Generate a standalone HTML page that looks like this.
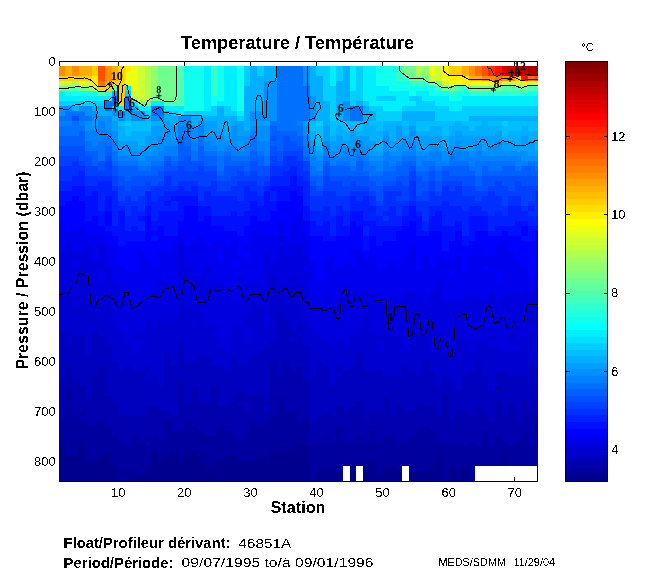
<!DOCTYPE html><html><head><meta charset="utf-8"><style>html,body{margin:0;padding:0;background:#fff;}svg{display:block;will-change:transform;}text{font-family:"Liberation Sans",sans-serif;}</style></head><body>
<svg width="650" height="580" viewBox="0 0 650 580">
<defs><filter id="crisp" x="0" y="0" width="1" height="1" filterUnits="objectBoundingBox"><feComponentTransfer><feFuncA type="discrete" tableValues="0 1"/></feComponentTransfer></filter><clipPath id="plotclip"><rect x="58.7" y="66" width="479.1" height="415"/></clipPath></defs>
<rect width="650" height="580" fill="#fff"/>
<g stroke="#000" stroke-width="1" fill="none" shape-rendering="crispEdges">
<path d="M59 61.5H537.8M59.5 61V481.5M537.5 61V481.5M59 481.5H537.8"/>
<path d="M118.5 61V66M118.5 481V476.5M184.5 61V66M184.5 481V476.5M250.5 61V66M250.5 481V476.5M316.5 61V66M316.5 481V476.5M382.5 61V66M382.5 481V476.5M448.5 61V66M448.5 481V476.5M514.5 61V66M514.5 481V476.5M59 61.5H63.5M537.8 61.5H533.3M59 111.5H63.5M537.8 111.5H533.3M59 161.5H63.5M537.8 161.5H533.3M59 211.5H63.5M537.8 211.5H533.3M59 261.5H63.5M537.8 261.5H533.3M59 311.5H63.5M537.8 311.5H533.3M59 361.5H63.5M537.8 361.5H533.3M59 411.5H63.5M537.8 411.5H533.3M59 461.5H63.5M537.8 461.5H533.3"/>
</g>
<g shape-rendering="crispEdges">
<rect x="58.70" y="66" width="6.61" height="10" fill="#ff8f00"/>
<rect x="58.70" y="76" width="6.61" height="5" fill="#ffcf00"/>
<rect x="58.70" y="81" width="6.61" height="5" fill="#cfff30"/>
<rect x="58.70" y="86" width="6.61" height="5" fill="#70ff8f"/>
<rect x="58.70" y="91" width="6.61" height="10" fill="#00efff"/>
<rect x="58.70" y="101" width="6.61" height="5" fill="#00cfff"/>
<rect x="58.70" y="106" width="6.61" height="10" fill="#008fff"/>
<rect x="58.70" y="116" width="6.61" height="5" fill="#0070ff"/>
<rect x="58.70" y="121" width="6.61" height="5" fill="#0080ff"/>
<rect x="58.70" y="126" width="6.61" height="10" fill="#0070ff"/>
<rect x="58.70" y="136" width="6.61" height="10" fill="#0060ff"/>
<rect x="58.70" y="146" width="6.61" height="10" fill="#0050ff"/>
<rect x="58.70" y="156" width="6.61" height="10" fill="#0040ff"/>
<rect x="58.70" y="166" width="6.61" height="15" fill="#0030ff"/>
<rect x="58.70" y="181" width="6.61" height="10" fill="#0020ff"/>
<rect x="58.70" y="191" width="6.61" height="15" fill="#0010ff"/>
<rect x="58.70" y="206" width="6.61" height="15" fill="#0000ff"/>
<rect x="58.70" y="221" width="6.61" height="30" fill="#0000ef"/>
<rect x="58.70" y="251" width="6.61" height="35" fill="#0000df"/>
<rect x="58.70" y="286" width="6.61" height="5" fill="#0000cf"/>
<rect x="58.70" y="291" width="6.61" height="5" fill="#0000df"/>
<rect x="58.70" y="296" width="6.61" height="35" fill="#0000cf"/>
<rect x="58.70" y="331" width="6.61" height="50" fill="#0000bf"/>
<rect x="58.70" y="381" width="6.61" height="40" fill="#0000af"/>
<rect x="58.70" y="421" width="6.61" height="20" fill="#00009f"/>
<rect x="58.70" y="441" width="6.61" height="40" fill="#00008f"/>
<rect x="65.31" y="66" width="6.61" height="10" fill="#ffaf00"/>
<rect x="65.31" y="76" width="6.61" height="5" fill="#ffcf00"/>
<rect x="65.31" y="81" width="6.61" height="5" fill="#cfff30"/>
<rect x="65.31" y="86" width="6.61" height="5" fill="#70ff8f"/>
<rect x="65.31" y="91" width="6.61" height="5" fill="#10ffef"/>
<rect x="65.31" y="96" width="6.61" height="5" fill="#00efff"/>
<rect x="65.31" y="101" width="6.61" height="5" fill="#00cfff"/>
<rect x="65.31" y="106" width="6.61" height="5" fill="#008fff"/>
<rect x="65.31" y="111" width="6.61" height="10" fill="#0070ff"/>
<rect x="65.31" y="121" width="6.61" height="5" fill="#0080ff"/>
<rect x="65.31" y="126" width="6.61" height="10" fill="#0070ff"/>
<rect x="65.31" y="136" width="6.61" height="10" fill="#0060ff"/>
<rect x="65.31" y="146" width="6.61" height="10" fill="#0050ff"/>
<rect x="65.31" y="156" width="6.61" height="10" fill="#0040ff"/>
<rect x="65.31" y="166" width="6.61" height="15" fill="#0030ff"/>
<rect x="65.31" y="181" width="6.61" height="10" fill="#0020ff"/>
<rect x="65.31" y="191" width="6.61" height="10" fill="#0010ff"/>
<rect x="65.31" y="201" width="6.61" height="30" fill="#0000ff"/>
<rect x="65.31" y="231" width="6.61" height="10" fill="#0000ef"/>
<rect x="65.31" y="241" width="6.61" height="50" fill="#0000df"/>
<rect x="65.31" y="291" width="6.61" height="40" fill="#0000cf"/>
<rect x="65.31" y="331" width="6.61" height="5" fill="#0000bf"/>
<rect x="65.31" y="336" width="6.61" height="10" fill="#0000cf"/>
<rect x="65.31" y="346" width="6.61" height="20" fill="#0000bf"/>
<rect x="65.31" y="366" width="6.61" height="25" fill="#0000af"/>
<rect x="65.31" y="391" width="6.61" height="10" fill="#00009f"/>
<rect x="65.31" y="401" width="6.61" height="5" fill="#0000af"/>
<rect x="65.31" y="406" width="6.61" height="50" fill="#00009f"/>
<rect x="65.31" y="456" width="6.61" height="25" fill="#00008f"/>
<rect x="71.92" y="66" width="6.61" height="10" fill="#ff8f00"/>
<rect x="71.92" y="76" width="6.61" height="5" fill="#ffcf00"/>
<rect x="71.92" y="81" width="6.61" height="5" fill="#afff50"/>
<rect x="71.92" y="86" width="6.61" height="5" fill="#50ffaf"/>
<rect x="71.92" y="91" width="6.61" height="5" fill="#10ffef"/>
<rect x="71.92" y="96" width="6.61" height="5" fill="#00efff"/>
<rect x="71.92" y="101" width="6.61" height="5" fill="#00cfff"/>
<rect x="71.92" y="106" width="6.61" height="5" fill="#00afff"/>
<rect x="71.92" y="111" width="6.61" height="5" fill="#0070ff"/>
<rect x="71.92" y="116" width="6.61" height="5" fill="#0050ff"/>
<rect x="71.92" y="121" width="6.61" height="15" fill="#0070ff"/>
<rect x="71.92" y="136" width="6.61" height="10" fill="#0060ff"/>
<rect x="71.92" y="146" width="6.61" height="10" fill="#0050ff"/>
<rect x="71.92" y="156" width="6.61" height="5" fill="#0040ff"/>
<rect x="71.92" y="161" width="6.61" height="15" fill="#0030ff"/>
<rect x="71.92" y="176" width="6.61" height="10" fill="#0020ff"/>
<rect x="71.92" y="186" width="6.61" height="10" fill="#0010ff"/>
<rect x="71.92" y="196" width="6.61" height="35" fill="#0000ff"/>
<rect x="71.92" y="231" width="6.61" height="20" fill="#0000ef"/>
<rect x="71.92" y="251" width="6.61" height="10" fill="#0000df"/>
<rect x="71.92" y="261" width="6.61" height="5" fill="#0000ef"/>
<rect x="71.92" y="266" width="6.61" height="30" fill="#0000df"/>
<rect x="71.92" y="296" width="6.61" height="5" fill="#0000cf"/>
<rect x="71.92" y="301" width="6.61" height="5" fill="#0000df"/>
<rect x="71.92" y="306" width="6.61" height="30" fill="#0000cf"/>
<rect x="71.92" y="336" width="6.61" height="45" fill="#0000bf"/>
<rect x="71.92" y="381" width="6.61" height="35" fill="#0000af"/>
<rect x="71.92" y="416" width="6.61" height="40" fill="#00009f"/>
<rect x="71.92" y="456" width="6.61" height="25" fill="#00008f"/>
<rect x="78.53" y="66" width="6.61" height="10" fill="#ffaf00"/>
<rect x="78.53" y="76" width="6.61" height="5" fill="#ffcf00"/>
<rect x="78.53" y="81" width="6.61" height="5" fill="#efff10"/>
<rect x="78.53" y="86" width="6.61" height="5" fill="#70ff8f"/>
<rect x="78.53" y="91" width="6.61" height="5" fill="#10ffef"/>
<rect x="78.53" y="96" width="6.61" height="5" fill="#00efff"/>
<rect x="78.53" y="101" width="6.61" height="5" fill="#00cfff"/>
<rect x="78.53" y="106" width="6.61" height="5" fill="#008fff"/>
<rect x="78.53" y="111" width="6.61" height="10" fill="#0070ff"/>
<rect x="78.53" y="121" width="6.61" height="5" fill="#0080ff"/>
<rect x="78.53" y="126" width="6.61" height="5" fill="#0070ff"/>
<rect x="78.53" y="131" width="6.61" height="15" fill="#0060ff"/>
<rect x="78.53" y="146" width="6.61" height="15" fill="#0050ff"/>
<rect x="78.53" y="161" width="6.61" height="5" fill="#0040ff"/>
<rect x="78.53" y="166" width="6.61" height="5" fill="#0030ff"/>
<rect x="78.53" y="171" width="6.61" height="15" fill="#0020ff"/>
<rect x="78.53" y="186" width="6.61" height="15" fill="#0010ff"/>
<rect x="78.53" y="201" width="6.61" height="25" fill="#0000ff"/>
<rect x="78.53" y="226" width="6.61" height="25" fill="#0000ef"/>
<rect x="78.53" y="251" width="6.61" height="15" fill="#0000df"/>
<rect x="78.53" y="266" width="6.61" height="70" fill="#0000cf"/>
<rect x="78.53" y="336" width="6.61" height="50" fill="#0000bf"/>
<rect x="78.53" y="386" width="6.61" height="25" fill="#0000af"/>
<rect x="78.53" y="411" width="6.61" height="5" fill="#00009f"/>
<rect x="78.53" y="416" width="6.61" height="5" fill="#0000af"/>
<rect x="78.53" y="421" width="6.61" height="20" fill="#00009f"/>
<rect x="78.53" y="441" width="6.61" height="40" fill="#00008f"/>
<rect x="85.14" y="66" width="6.61" height="10" fill="#ffaf00"/>
<rect x="85.14" y="76" width="6.61" height="5" fill="#ffcf00"/>
<rect x="85.14" y="81" width="6.61" height="5" fill="#cfff30"/>
<rect x="85.14" y="86" width="6.61" height="5" fill="#8fff70"/>
<rect x="85.14" y="91" width="6.61" height="5" fill="#10ffef"/>
<rect x="85.14" y="96" width="6.61" height="5" fill="#00efff"/>
<rect x="85.14" y="101" width="6.61" height="5" fill="#00cfff"/>
<rect x="85.14" y="106" width="6.61" height="10" fill="#008fff"/>
<rect x="85.14" y="116" width="6.61" height="5" fill="#0070ff"/>
<rect x="85.14" y="121" width="6.61" height="10" fill="#008fff"/>
<rect x="85.14" y="131" width="6.61" height="10" fill="#0080ff"/>
<rect x="85.14" y="141" width="6.61" height="10" fill="#0070ff"/>
<rect x="85.14" y="151" width="6.61" height="5" fill="#0060ff"/>
<rect x="85.14" y="156" width="6.61" height="10" fill="#0050ff"/>
<rect x="85.14" y="166" width="6.61" height="10" fill="#0040ff"/>
<rect x="85.14" y="176" width="6.61" height="10" fill="#0030ff"/>
<rect x="85.14" y="186" width="6.61" height="10" fill="#0020ff"/>
<rect x="85.14" y="196" width="6.61" height="25" fill="#0010ff"/>
<rect x="85.14" y="221" width="6.61" height="15" fill="#0000ff"/>
<rect x="85.14" y="236" width="6.61" height="10" fill="#0000ef"/>
<rect x="85.14" y="246" width="6.61" height="55" fill="#0000df"/>
<rect x="85.14" y="301" width="6.61" height="55" fill="#0000cf"/>
<rect x="85.14" y="356" width="6.61" height="45" fill="#0000bf"/>
<rect x="85.14" y="401" width="6.61" height="25" fill="#0000af"/>
<rect x="85.14" y="426" width="6.61" height="35" fill="#00009f"/>
<rect x="85.14" y="461" width="6.61" height="20" fill="#00008f"/>
<rect x="91.75" y="66" width="6.61" height="10" fill="#ffcf00"/>
<rect x="91.75" y="76" width="6.61" height="10" fill="#ffef00"/>
<rect x="91.75" y="86" width="6.61" height="5" fill="#afff50"/>
<rect x="91.75" y="91" width="6.61" height="5" fill="#10ffef"/>
<rect x="91.75" y="96" width="6.61" height="5" fill="#00efff"/>
<rect x="91.75" y="101" width="6.61" height="5" fill="#00cfff"/>
<rect x="91.75" y="106" width="6.61" height="5" fill="#00afff"/>
<rect x="91.75" y="111" width="6.61" height="10" fill="#008fff"/>
<rect x="91.75" y="121" width="6.61" height="5" fill="#009fff"/>
<rect x="91.75" y="126" width="6.61" height="5" fill="#008fff"/>
<rect x="91.75" y="131" width="6.61" height="15" fill="#0080ff"/>
<rect x="91.75" y="146" width="6.61" height="5" fill="#0070ff"/>
<rect x="91.75" y="151" width="6.61" height="15" fill="#0060ff"/>
<rect x="91.75" y="166" width="6.61" height="10" fill="#0040ff"/>
<rect x="91.75" y="176" width="6.61" height="10" fill="#0030ff"/>
<rect x="91.75" y="186" width="6.61" height="5" fill="#0020ff"/>
<rect x="91.75" y="191" width="6.61" height="25" fill="#0010ff"/>
<rect x="91.75" y="216" width="6.61" height="15" fill="#0000ff"/>
<rect x="91.75" y="231" width="6.61" height="30" fill="#0000ef"/>
<rect x="91.75" y="261" width="6.61" height="50" fill="#0000df"/>
<rect x="91.75" y="311" width="6.61" height="20" fill="#0000cf"/>
<rect x="91.75" y="331" width="6.61" height="45" fill="#0000bf"/>
<rect x="91.75" y="376" width="6.61" height="50" fill="#0000af"/>
<rect x="91.75" y="426" width="6.61" height="35" fill="#00009f"/>
<rect x="91.75" y="461" width="6.61" height="20" fill="#00008f"/>
<rect x="98.36" y="66" width="6.61" height="15" fill="#ff5000"/>
<rect x="98.36" y="81" width="6.61" height="5" fill="#ff7000"/>
<rect x="98.36" y="86" width="6.61" height="5" fill="#ffcf00"/>
<rect x="98.36" y="91" width="6.61" height="5" fill="#50ffaf"/>
<rect x="98.36" y="96" width="6.61" height="5" fill="#00efff"/>
<rect x="98.36" y="101" width="6.61" height="5" fill="#00cfff"/>
<rect x="98.36" y="106" width="6.61" height="10" fill="#00afff"/>
<rect x="98.36" y="116" width="6.61" height="5" fill="#008fff"/>
<rect x="98.36" y="121" width="6.61" height="20" fill="#0080ff"/>
<rect x="98.36" y="141" width="6.61" height="20" fill="#0070ff"/>
<rect x="98.36" y="161" width="6.61" height="10" fill="#0050ff"/>
<rect x="98.36" y="171" width="6.61" height="5" fill="#0040ff"/>
<rect x="98.36" y="176" width="6.61" height="5" fill="#0030ff"/>
<rect x="98.36" y="181" width="6.61" height="30" fill="#0020ff"/>
<rect x="98.36" y="211" width="6.61" height="15" fill="#0010ff"/>
<rect x="98.36" y="226" width="6.61" height="10" fill="#0000ff"/>
<rect x="98.36" y="236" width="6.61" height="10" fill="#0000ef"/>
<rect x="98.36" y="246" width="6.61" height="25" fill="#0000df"/>
<rect x="98.36" y="271" width="6.61" height="10" fill="#0000ef"/>
<rect x="98.36" y="281" width="6.61" height="20" fill="#0000df"/>
<rect x="98.36" y="301" width="6.61" height="35" fill="#0000cf"/>
<rect x="98.36" y="336" width="6.61" height="30" fill="#0000bf"/>
<rect x="98.36" y="366" width="6.61" height="55" fill="#0000af"/>
<rect x="98.36" y="421" width="6.61" height="35" fill="#00009f"/>
<rect x="98.36" y="456" width="6.61" height="25" fill="#00008f"/>
<rect x="104.97" y="66" width="6.61" height="15" fill="#ff8f00"/>
<rect x="104.97" y="81" width="6.61" height="5" fill="#ffaf00"/>
<rect x="104.97" y="86" width="6.61" height="5" fill="#ffcf00"/>
<rect x="104.97" y="91" width="6.61" height="5" fill="#30ffcf"/>
<rect x="104.97" y="96" width="6.61" height="5" fill="#00efff"/>
<rect x="104.97" y="101" width="6.61" height="10" fill="#0070ff"/>
<rect x="104.97" y="111" width="6.61" height="5" fill="#00afff"/>
<rect x="104.97" y="116" width="6.61" height="15" fill="#008fff"/>
<rect x="104.97" y="131" width="6.61" height="5" fill="#0080ff"/>
<rect x="104.97" y="136" width="6.61" height="10" fill="#0070ff"/>
<rect x="104.97" y="146" width="6.61" height="10" fill="#0060ff"/>
<rect x="104.97" y="156" width="6.61" height="5" fill="#0050ff"/>
<rect x="104.97" y="161" width="6.61" height="15" fill="#0040ff"/>
<rect x="104.97" y="176" width="6.61" height="5" fill="#0030ff"/>
<rect x="104.97" y="181" width="6.61" height="15" fill="#0020ff"/>
<rect x="104.97" y="196" width="6.61" height="15" fill="#0010ff"/>
<rect x="104.97" y="211" width="6.61" height="15" fill="#0000ff"/>
<rect x="104.97" y="226" width="6.61" height="5" fill="#0010ff"/>
<rect x="104.97" y="231" width="6.61" height="10" fill="#0000ff"/>
<rect x="104.97" y="241" width="6.61" height="25" fill="#0000ef"/>
<rect x="104.97" y="266" width="6.61" height="25" fill="#0000df"/>
<rect x="104.97" y="291" width="6.61" height="5" fill="#0000cf"/>
<rect x="104.97" y="296" width="6.61" height="5" fill="#0000df"/>
<rect x="104.97" y="301" width="6.61" height="45" fill="#0000cf"/>
<rect x="104.97" y="346" width="6.61" height="50" fill="#0000bf"/>
<rect x="104.97" y="396" width="6.61" height="30" fill="#0000af"/>
<rect x="104.97" y="426" width="6.61" height="25" fill="#00009f"/>
<rect x="104.97" y="451" width="6.61" height="30" fill="#00008f"/>
<rect x="111.58" y="66" width="6.61" height="15" fill="#ffaf00"/>
<rect x="111.58" y="81" width="6.61" height="5" fill="#ffcf00"/>
<rect x="111.58" y="86" width="6.61" height="5" fill="#50ffaf"/>
<rect x="111.58" y="91" width="6.61" height="5" fill="#00afff"/>
<rect x="111.58" y="96" width="6.61" height="10" fill="#0070ff"/>
<rect x="111.58" y="106" width="6.61" height="5" fill="#00cfff"/>
<rect x="111.58" y="111" width="6.61" height="5" fill="#008fff"/>
<rect x="111.58" y="116" width="6.61" height="5" fill="#00afff"/>
<rect x="111.58" y="121" width="6.61" height="10" fill="#009fff"/>
<rect x="111.58" y="131" width="6.61" height="10" fill="#008fff"/>
<rect x="111.58" y="141" width="6.61" height="10" fill="#0080ff"/>
<rect x="111.58" y="151" width="6.61" height="10" fill="#0070ff"/>
<rect x="111.58" y="161" width="6.61" height="5" fill="#0060ff"/>
<rect x="111.58" y="166" width="6.61" height="10" fill="#0050ff"/>
<rect x="111.58" y="176" width="6.61" height="10" fill="#0040ff"/>
<rect x="111.58" y="186" width="6.61" height="5" fill="#0030ff"/>
<rect x="111.58" y="191" width="6.61" height="35" fill="#0020ff"/>
<rect x="111.58" y="226" width="6.61" height="10" fill="#0010ff"/>
<rect x="111.58" y="236" width="6.61" height="10" fill="#0000ff"/>
<rect x="111.58" y="246" width="6.61" height="35" fill="#0000ef"/>
<rect x="111.58" y="281" width="6.61" height="15" fill="#0000df"/>
<rect x="111.58" y="296" width="6.61" height="5" fill="#0000cf"/>
<rect x="111.58" y="301" width="6.61" height="10" fill="#0000df"/>
<rect x="111.58" y="311" width="6.61" height="5" fill="#0000cf"/>
<rect x="111.58" y="316" width="6.61" height="5" fill="#0000df"/>
<rect x="111.58" y="321" width="6.61" height="40" fill="#0000cf"/>
<rect x="111.58" y="361" width="6.61" height="40" fill="#0000bf"/>
<rect x="111.58" y="401" width="6.61" height="35" fill="#0000af"/>
<rect x="111.58" y="436" width="6.61" height="30" fill="#00009f"/>
<rect x="111.58" y="466" width="6.61" height="15" fill="#00008f"/>
<rect x="118.19" y="66" width="6.61" height="40" fill="#ffcf00"/>
<rect x="118.19" y="106" width="6.61" height="5" fill="#00efff"/>
<rect x="118.19" y="111" width="6.61" height="5" fill="#0070ff"/>
<rect x="118.19" y="116" width="6.61" height="5" fill="#008fff"/>
<rect x="118.19" y="121" width="6.61" height="5" fill="#00bfff"/>
<rect x="118.19" y="126" width="6.61" height="15" fill="#00afff"/>
<rect x="118.19" y="141" width="6.61" height="10" fill="#009fff"/>
<rect x="118.19" y="151" width="6.61" height="5" fill="#008fff"/>
<rect x="118.19" y="156" width="6.61" height="5" fill="#0080ff"/>
<rect x="118.19" y="161" width="6.61" height="5" fill="#0070ff"/>
<rect x="118.19" y="166" width="6.61" height="10" fill="#0060ff"/>
<rect x="118.19" y="176" width="6.61" height="10" fill="#0050ff"/>
<rect x="118.19" y="186" width="6.61" height="15" fill="#0040ff"/>
<rect x="118.19" y="201" width="6.61" height="5" fill="#0030ff"/>
<rect x="118.19" y="206" width="6.61" height="5" fill="#0020ff"/>
<rect x="118.19" y="211" width="6.61" height="35" fill="#0010ff"/>
<rect x="118.19" y="246" width="6.61" height="20" fill="#0000ff"/>
<rect x="118.19" y="266" width="6.61" height="20" fill="#0000ef"/>
<rect x="118.19" y="286" width="6.61" height="45" fill="#0000df"/>
<rect x="118.19" y="331" width="6.61" height="40" fill="#0000cf"/>
<rect x="118.19" y="371" width="6.61" height="45" fill="#0000bf"/>
<rect x="118.19" y="416" width="6.61" height="25" fill="#0000af"/>
<rect x="118.19" y="441" width="6.61" height="30" fill="#00009f"/>
<rect x="118.19" y="471" width="6.61" height="5" fill="#00008f"/>
<rect x="118.19" y="476" width="6.61" height="5" fill="#00009f"/>
<rect x="124.80" y="66" width="6.61" height="5" fill="#ffef00"/>
<rect x="124.80" y="71" width="6.61" height="15" fill="#efff10"/>
<rect x="124.80" y="86" width="6.61" height="5" fill="#00efff"/>
<rect x="124.80" y="91" width="6.61" height="5" fill="#00cfff"/>
<rect x="124.80" y="96" width="6.61" height="15" fill="#0070ff"/>
<rect x="124.80" y="111" width="6.61" height="10" fill="#00afff"/>
<rect x="124.80" y="121" width="6.61" height="5" fill="#00cfff"/>
<rect x="124.80" y="126" width="6.61" height="10" fill="#00bfff"/>
<rect x="124.80" y="136" width="6.61" height="5" fill="#00afff"/>
<rect x="124.80" y="141" width="6.61" height="5" fill="#009fff"/>
<rect x="124.80" y="146" width="6.61" height="10" fill="#008fff"/>
<rect x="124.80" y="156" width="6.61" height="5" fill="#0080ff"/>
<rect x="124.80" y="161" width="6.61" height="5" fill="#0070ff"/>
<rect x="124.80" y="166" width="6.61" height="15" fill="#0060ff"/>
<rect x="124.80" y="181" width="6.61" height="10" fill="#0050ff"/>
<rect x="124.80" y="191" width="6.61" height="5" fill="#0040ff"/>
<rect x="124.80" y="196" width="6.61" height="20" fill="#0030ff"/>
<rect x="124.80" y="216" width="6.61" height="15" fill="#0020ff"/>
<rect x="124.80" y="231" width="6.61" height="10" fill="#0010ff"/>
<rect x="124.80" y="241" width="6.61" height="30" fill="#0000ff"/>
<rect x="124.80" y="271" width="6.61" height="30" fill="#0000ef"/>
<rect x="124.80" y="301" width="6.61" height="5" fill="#0000df"/>
<rect x="124.80" y="306" width="6.61" height="5" fill="#0000ef"/>
<rect x="124.80" y="311" width="6.61" height="30" fill="#0000df"/>
<rect x="124.80" y="341" width="6.61" height="25" fill="#0000cf"/>
<rect x="124.80" y="366" width="6.61" height="50" fill="#0000bf"/>
<rect x="124.80" y="416" width="6.61" height="30" fill="#0000af"/>
<rect x="124.80" y="446" width="6.61" height="35" fill="#00009f"/>
<rect x="131.41" y="66" width="6.61" height="25" fill="#efff10"/>
<rect x="131.41" y="91" width="6.61" height="5" fill="#cfff30"/>
<rect x="131.41" y="96" width="6.61" height="5" fill="#afff50"/>
<rect x="131.41" y="101" width="6.61" height="5" fill="#00efff"/>
<rect x="131.41" y="106" width="6.61" height="5" fill="#00afff"/>
<rect x="131.41" y="111" width="6.61" height="10" fill="#008fff"/>
<rect x="131.41" y="121" width="6.61" height="10" fill="#00bfff"/>
<rect x="131.41" y="131" width="6.61" height="10" fill="#00afff"/>
<rect x="131.41" y="141" width="6.61" height="10" fill="#009fff"/>
<rect x="131.41" y="151" width="6.61" height="5" fill="#008fff"/>
<rect x="131.41" y="156" width="6.61" height="5" fill="#0080ff"/>
<rect x="131.41" y="161" width="6.61" height="5" fill="#0070ff"/>
<rect x="131.41" y="166" width="6.61" height="10" fill="#0060ff"/>
<rect x="131.41" y="176" width="6.61" height="10" fill="#0050ff"/>
<rect x="131.41" y="186" width="6.61" height="15" fill="#0040ff"/>
<rect x="131.41" y="201" width="6.61" height="5" fill="#0030ff"/>
<rect x="131.41" y="206" width="6.61" height="20" fill="#0020ff"/>
<rect x="131.41" y="226" width="6.61" height="15" fill="#0010ff"/>
<rect x="131.41" y="241" width="6.61" height="30" fill="#0000ff"/>
<rect x="131.41" y="271" width="6.61" height="35" fill="#0000ef"/>
<rect x="131.41" y="306" width="6.61" height="30" fill="#0000df"/>
<rect x="131.41" y="336" width="6.61" height="5" fill="#0000cf"/>
<rect x="131.41" y="341" width="6.61" height="15" fill="#0000df"/>
<rect x="131.41" y="356" width="6.61" height="15" fill="#0000cf"/>
<rect x="131.41" y="371" width="6.61" height="45" fill="#0000bf"/>
<rect x="131.41" y="416" width="6.61" height="20" fill="#0000af"/>
<rect x="131.41" y="436" width="6.61" height="35" fill="#00009f"/>
<rect x="131.41" y="471" width="6.61" height="10" fill="#00008f"/>
<rect x="138.02" y="66" width="6.61" height="35" fill="#cfff30"/>
<rect x="138.02" y="101" width="6.61" height="5" fill="#70ff8f"/>
<rect x="138.02" y="106" width="6.61" height="5" fill="#00efff"/>
<rect x="138.02" y="111" width="6.61" height="10" fill="#008fff"/>
<rect x="138.02" y="121" width="6.61" height="10" fill="#00bfff"/>
<rect x="138.02" y="131" width="6.61" height="15" fill="#00afff"/>
<rect x="138.02" y="146" width="6.61" height="5" fill="#009fff"/>
<rect x="138.02" y="151" width="6.61" height="10" fill="#008fff"/>
<rect x="138.02" y="161" width="6.61" height="5" fill="#0080ff"/>
<rect x="138.02" y="166" width="6.61" height="5" fill="#0070ff"/>
<rect x="138.02" y="171" width="6.61" height="5" fill="#0060ff"/>
<rect x="138.02" y="176" width="6.61" height="10" fill="#0050ff"/>
<rect x="138.02" y="186" width="6.61" height="10" fill="#0040ff"/>
<rect x="138.02" y="196" width="6.61" height="15" fill="#0030ff"/>
<rect x="138.02" y="211" width="6.61" height="5" fill="#0020ff"/>
<rect x="138.02" y="216" width="6.61" height="5" fill="#0010ff"/>
<rect x="138.02" y="221" width="6.61" height="10" fill="#0020ff"/>
<rect x="138.02" y="231" width="6.61" height="10" fill="#0010ff"/>
<rect x="138.02" y="241" width="6.61" height="10" fill="#0000ff"/>
<rect x="138.02" y="251" width="6.61" height="50" fill="#0000ef"/>
<rect x="138.02" y="301" width="6.61" height="30" fill="#0000df"/>
<rect x="138.02" y="331" width="6.61" height="10" fill="#0000cf"/>
<rect x="138.02" y="341" width="6.61" height="5" fill="#0000df"/>
<rect x="138.02" y="346" width="6.61" height="25" fill="#0000cf"/>
<rect x="138.02" y="371" width="6.61" height="45" fill="#0000bf"/>
<rect x="138.02" y="416" width="6.61" height="25" fill="#0000af"/>
<rect x="138.02" y="441" width="6.61" height="35" fill="#00009f"/>
<rect x="138.02" y="476" width="6.61" height="5" fill="#00008f"/>
<rect x="144.63" y="66" width="6.61" height="35" fill="#afff50"/>
<rect x="144.63" y="101" width="6.61" height="5" fill="#70ff8f"/>
<rect x="144.63" y="106" width="6.61" height="5" fill="#00efff"/>
<rect x="144.63" y="111" width="6.61" height="5" fill="#00cfff"/>
<rect x="144.63" y="116" width="6.61" height="5" fill="#00afff"/>
<rect x="144.63" y="121" width="6.61" height="10" fill="#00bfff"/>
<rect x="144.63" y="131" width="6.61" height="5" fill="#00afff"/>
<rect x="144.63" y="136" width="6.61" height="15" fill="#009fff"/>
<rect x="144.63" y="151" width="6.61" height="5" fill="#008fff"/>
<rect x="144.63" y="156" width="6.61" height="10" fill="#0080ff"/>
<rect x="144.63" y="166" width="6.61" height="5" fill="#0070ff"/>
<rect x="144.63" y="171" width="6.61" height="5" fill="#0060ff"/>
<rect x="144.63" y="176" width="6.61" height="5" fill="#0050ff"/>
<rect x="144.63" y="181" width="6.61" height="10" fill="#0040ff"/>
<rect x="144.63" y="191" width="6.61" height="15" fill="#0020ff"/>
<rect x="144.63" y="206" width="6.61" height="10" fill="#0010ff"/>
<rect x="144.63" y="216" width="6.61" height="45" fill="#0000ff"/>
<rect x="144.63" y="261" width="6.61" height="40" fill="#0000ef"/>
<rect x="144.63" y="301" width="6.61" height="20" fill="#0000df"/>
<rect x="144.63" y="321" width="6.61" height="45" fill="#0000cf"/>
<rect x="144.63" y="366" width="6.61" height="5" fill="#0000bf"/>
<rect x="144.63" y="371" width="6.61" height="10" fill="#0000cf"/>
<rect x="144.63" y="381" width="6.61" height="25" fill="#0000bf"/>
<rect x="144.63" y="406" width="6.61" height="30" fill="#0000af"/>
<rect x="144.63" y="436" width="6.61" height="5" fill="#00009f"/>
<rect x="144.63" y="441" width="6.61" height="5" fill="#0000af"/>
<rect x="144.63" y="446" width="6.61" height="25" fill="#00009f"/>
<rect x="144.63" y="471" width="6.61" height="10" fill="#00008f"/>
<rect x="151.24" y="66" width="6.61" height="30" fill="#8fff70"/>
<rect x="151.24" y="96" width="6.61" height="5" fill="#70ff8f"/>
<rect x="151.24" y="101" width="6.61" height="5" fill="#00efff"/>
<rect x="151.24" y="106" width="6.61" height="10" fill="#0070ff"/>
<rect x="151.24" y="116" width="6.61" height="5" fill="#008fff"/>
<rect x="151.24" y="121" width="6.61" height="5" fill="#00afff"/>
<rect x="151.24" y="126" width="6.61" height="20" fill="#009fff"/>
<rect x="151.24" y="146" width="6.61" height="10" fill="#008fff"/>
<rect x="151.24" y="156" width="6.61" height="5" fill="#0080ff"/>
<rect x="151.24" y="161" width="6.61" height="5" fill="#0070ff"/>
<rect x="151.24" y="166" width="6.61" height="10" fill="#0060ff"/>
<rect x="151.24" y="176" width="6.61" height="10" fill="#0050ff"/>
<rect x="151.24" y="186" width="6.61" height="15" fill="#0030ff"/>
<rect x="151.24" y="201" width="6.61" height="20" fill="#0020ff"/>
<rect x="151.24" y="221" width="6.61" height="10" fill="#0010ff"/>
<rect x="151.24" y="231" width="6.61" height="5" fill="#0000ff"/>
<rect x="151.24" y="236" width="6.61" height="5" fill="#0010ff"/>
<rect x="151.24" y="241" width="6.61" height="25" fill="#0000ff"/>
<rect x="151.24" y="266" width="6.61" height="25" fill="#0000ef"/>
<rect x="151.24" y="291" width="6.61" height="35" fill="#0000df"/>
<rect x="151.24" y="326" width="6.61" height="50" fill="#0000cf"/>
<rect x="151.24" y="376" width="6.61" height="30" fill="#0000bf"/>
<rect x="151.24" y="406" width="6.61" height="30" fill="#0000af"/>
<rect x="151.24" y="436" width="6.61" height="15" fill="#00009f"/>
<rect x="151.24" y="451" width="6.61" height="30" fill="#00008f"/>
<rect x="157.85" y="66" width="6.61" height="35" fill="#70ff8f"/>
<rect x="157.85" y="101" width="6.61" height="5" fill="#00efff"/>
<rect x="157.85" y="106" width="6.61" height="10" fill="#0070ff"/>
<rect x="157.85" y="116" width="6.61" height="5" fill="#008fff"/>
<rect x="157.85" y="121" width="6.61" height="5" fill="#00afff"/>
<rect x="157.85" y="126" width="6.61" height="10" fill="#009fff"/>
<rect x="157.85" y="136" width="6.61" height="15" fill="#008fff"/>
<rect x="157.85" y="151" width="6.61" height="10" fill="#0080ff"/>
<rect x="157.85" y="161" width="6.61" height="5" fill="#0070ff"/>
<rect x="157.85" y="166" width="6.61" height="5" fill="#0060ff"/>
<rect x="157.85" y="171" width="6.61" height="10" fill="#0050ff"/>
<rect x="157.85" y="181" width="6.61" height="5" fill="#0040ff"/>
<rect x="157.85" y="186" width="6.61" height="10" fill="#0030ff"/>
<rect x="157.85" y="196" width="6.61" height="15" fill="#0020ff"/>
<rect x="157.85" y="211" width="6.61" height="15" fill="#0010ff"/>
<rect x="157.85" y="226" width="6.61" height="25" fill="#0000ff"/>
<rect x="157.85" y="251" width="6.61" height="30" fill="#0000ef"/>
<rect x="157.85" y="281" width="6.61" height="35" fill="#0000df"/>
<rect x="157.85" y="316" width="6.61" height="70" fill="#0000cf"/>
<rect x="157.85" y="386" width="6.61" height="25" fill="#0000bf"/>
<rect x="157.85" y="411" width="6.61" height="30" fill="#0000af"/>
<rect x="157.85" y="441" width="6.61" height="20" fill="#00009f"/>
<rect x="157.85" y="461" width="6.61" height="20" fill="#00008f"/>
<rect x="164.46" y="66" width="6.61" height="35" fill="#70ff8f"/>
<rect x="164.46" y="101" width="6.61" height="5" fill="#50ffaf"/>
<rect x="164.46" y="106" width="6.61" height="5" fill="#00efff"/>
<rect x="164.46" y="111" width="6.61" height="10" fill="#00afff"/>
<rect x="164.46" y="121" width="6.61" height="10" fill="#009fff"/>
<rect x="164.46" y="131" width="6.61" height="15" fill="#008fff"/>
<rect x="164.46" y="146" width="6.61" height="10" fill="#0080ff"/>
<rect x="164.46" y="156" width="6.61" height="5" fill="#0060ff"/>
<rect x="164.46" y="161" width="6.61" height="10" fill="#0050ff"/>
<rect x="164.46" y="171" width="6.61" height="5" fill="#0040ff"/>
<rect x="164.46" y="176" width="6.61" height="15" fill="#0030ff"/>
<rect x="164.46" y="191" width="6.61" height="10" fill="#0020ff"/>
<rect x="164.46" y="201" width="6.61" height="5" fill="#0010ff"/>
<rect x="164.46" y="206" width="6.61" height="5" fill="#0020ff"/>
<rect x="164.46" y="211" width="6.61" height="25" fill="#0010ff"/>
<rect x="164.46" y="236" width="6.61" height="15" fill="#0000ff"/>
<rect x="164.46" y="251" width="6.61" height="30" fill="#0000ef"/>
<rect x="164.46" y="281" width="6.61" height="40" fill="#0000df"/>
<rect x="164.46" y="321" width="6.61" height="30" fill="#0000cf"/>
<rect x="164.46" y="351" width="6.61" height="60" fill="#0000bf"/>
<rect x="164.46" y="411" width="6.61" height="10" fill="#0000af"/>
<rect x="164.46" y="421" width="6.61" height="35" fill="#00009f"/>
<rect x="164.46" y="456" width="6.61" height="25" fill="#00008f"/>
<rect x="171.07" y="66" width="6.61" height="35" fill="#70ff8f"/>
<rect x="171.07" y="101" width="6.61" height="5" fill="#50ffaf"/>
<rect x="171.07" y="106" width="6.61" height="5" fill="#00efff"/>
<rect x="171.07" y="111" width="6.61" height="5" fill="#00cfff"/>
<rect x="171.07" y="116" width="6.61" height="10" fill="#00afff"/>
<rect x="171.07" y="126" width="6.61" height="15" fill="#009fff"/>
<rect x="171.07" y="141" width="6.61" height="5" fill="#008fff"/>
<rect x="171.07" y="146" width="6.61" height="10" fill="#0080ff"/>
<rect x="171.07" y="156" width="6.61" height="5" fill="#0070ff"/>
<rect x="171.07" y="161" width="6.61" height="5" fill="#0060ff"/>
<rect x="171.07" y="166" width="6.61" height="5" fill="#0050ff"/>
<rect x="171.07" y="171" width="6.61" height="15" fill="#0040ff"/>
<rect x="171.07" y="186" width="6.61" height="5" fill="#0030ff"/>
<rect x="171.07" y="191" width="6.61" height="5" fill="#0020ff"/>
<rect x="171.07" y="196" width="6.61" height="5" fill="#0010ff"/>
<rect x="171.07" y="201" width="6.61" height="10" fill="#0020ff"/>
<rect x="171.07" y="211" width="6.61" height="25" fill="#0010ff"/>
<rect x="171.07" y="236" width="6.61" height="10" fill="#0000ff"/>
<rect x="171.07" y="246" width="6.61" height="50" fill="#0000ef"/>
<rect x="171.07" y="296" width="6.61" height="20" fill="#0000df"/>
<rect x="171.07" y="316" width="6.61" height="50" fill="#0000cf"/>
<rect x="171.07" y="366" width="6.61" height="50" fill="#0000bf"/>
<rect x="171.07" y="416" width="6.61" height="15" fill="#0000af"/>
<rect x="171.07" y="431" width="6.61" height="20" fill="#00009f"/>
<rect x="171.07" y="451" width="6.61" height="30" fill="#00008f"/>
<rect x="177.68" y="66" width="6.61" height="40" fill="#50ffaf"/>
<rect x="177.68" y="106" width="6.61" height="10" fill="#00efff"/>
<rect x="177.68" y="116" width="6.61" height="10" fill="#008fff"/>
<rect x="177.68" y="126" width="6.61" height="10" fill="#0080ff"/>
<rect x="177.68" y="136" width="6.61" height="5" fill="#0070ff"/>
<rect x="177.68" y="141" width="6.61" height="20" fill="#0060ff"/>
<rect x="177.68" y="161" width="6.61" height="5" fill="#0050ff"/>
<rect x="177.68" y="166" width="6.61" height="15" fill="#0040ff"/>
<rect x="177.68" y="181" width="6.61" height="5" fill="#0030ff"/>
<rect x="177.68" y="186" width="6.61" height="10" fill="#0020ff"/>
<rect x="177.68" y="196" width="6.61" height="25" fill="#0010ff"/>
<rect x="177.68" y="221" width="6.61" height="10" fill="#0000ff"/>
<rect x="177.68" y="231" width="6.61" height="10" fill="#0000ef"/>
<rect x="177.68" y="241" width="6.61" height="50" fill="#0000df"/>
<rect x="177.68" y="291" width="6.61" height="50" fill="#0000cf"/>
<rect x="177.68" y="341" width="6.61" height="40" fill="#0000bf"/>
<rect x="177.68" y="381" width="6.61" height="50" fill="#0000af"/>
<rect x="177.68" y="431" width="6.61" height="30" fill="#00009f"/>
<rect x="177.68" y="461" width="6.61" height="20" fill="#00008f"/>
<rect x="184.29" y="66" width="6.61" height="45" fill="#10ffef"/>
<rect x="184.29" y="111" width="6.61" height="5" fill="#00cfff"/>
<rect x="184.29" y="116" width="6.61" height="10" fill="#008fff"/>
<rect x="184.29" y="126" width="6.61" height="10" fill="#0080ff"/>
<rect x="184.29" y="136" width="6.61" height="10" fill="#0070ff"/>
<rect x="184.29" y="146" width="6.61" height="10" fill="#0060ff"/>
<rect x="184.29" y="156" width="6.61" height="15" fill="#0050ff"/>
<rect x="184.29" y="171" width="6.61" height="10" fill="#0040ff"/>
<rect x="184.29" y="181" width="6.61" height="10" fill="#0030ff"/>
<rect x="184.29" y="191" width="6.61" height="5" fill="#0020ff"/>
<rect x="184.29" y="196" width="6.61" height="10" fill="#0010ff"/>
<rect x="184.29" y="206" width="6.61" height="40" fill="#0000ff"/>
<rect x="184.29" y="246" width="6.61" height="20" fill="#0000ef"/>
<rect x="184.29" y="266" width="6.61" height="40" fill="#0000df"/>
<rect x="184.29" y="306" width="6.61" height="55" fill="#0000cf"/>
<rect x="184.29" y="361" width="6.61" height="40" fill="#0000bf"/>
<rect x="184.29" y="401" width="6.61" height="20" fill="#0000af"/>
<rect x="184.29" y="421" width="6.61" height="35" fill="#00009f"/>
<rect x="184.29" y="456" width="6.61" height="25" fill="#00008f"/>
<rect x="190.90" y="66" width="6.61" height="45" fill="#10ffef"/>
<rect x="190.90" y="111" width="6.61" height="5" fill="#00cfff"/>
<rect x="190.90" y="116" width="6.61" height="10" fill="#00afff"/>
<rect x="190.90" y="126" width="6.61" height="15" fill="#008fff"/>
<rect x="190.90" y="141" width="6.61" height="10" fill="#0080ff"/>
<rect x="190.90" y="151" width="6.61" height="10" fill="#0070ff"/>
<rect x="190.90" y="161" width="6.61" height="10" fill="#0050ff"/>
<rect x="190.90" y="171" width="6.61" height="10" fill="#0040ff"/>
<rect x="190.90" y="181" width="6.61" height="5" fill="#0030ff"/>
<rect x="190.90" y="186" width="6.61" height="10" fill="#0020ff"/>
<rect x="190.90" y="196" width="6.61" height="10" fill="#0010ff"/>
<rect x="190.90" y="206" width="6.61" height="35" fill="#0000ff"/>
<rect x="190.90" y="241" width="6.61" height="35" fill="#0000ef"/>
<rect x="190.90" y="276" width="6.61" height="35" fill="#0000df"/>
<rect x="190.90" y="311" width="6.61" height="10" fill="#0000cf"/>
<rect x="190.90" y="321" width="6.61" height="5" fill="#0000df"/>
<rect x="190.90" y="326" width="6.61" height="35" fill="#0000cf"/>
<rect x="190.90" y="361" width="6.61" height="25" fill="#0000bf"/>
<rect x="190.90" y="386" width="6.61" height="40" fill="#0000af"/>
<rect x="190.90" y="426" width="6.61" height="25" fill="#00009f"/>
<rect x="190.90" y="451" width="6.61" height="30" fill="#00008f"/>
<rect x="197.51" y="66" width="6.61" height="45" fill="#10ffef"/>
<rect x="197.51" y="111" width="6.61" height="5" fill="#00cfff"/>
<rect x="197.51" y="116" width="6.61" height="5" fill="#00afff"/>
<rect x="197.51" y="121" width="6.61" height="5" fill="#008fff"/>
<rect x="197.51" y="126" width="6.61" height="10" fill="#0080ff"/>
<rect x="197.51" y="136" width="6.61" height="10" fill="#0070ff"/>
<rect x="197.51" y="146" width="6.61" height="15" fill="#0060ff"/>
<rect x="197.51" y="161" width="6.61" height="5" fill="#0050ff"/>
<rect x="197.51" y="166" width="6.61" height="20" fill="#0040ff"/>
<rect x="197.51" y="186" width="6.61" height="15" fill="#0030ff"/>
<rect x="197.51" y="201" width="6.61" height="5" fill="#0020ff"/>
<rect x="197.51" y="206" width="6.61" height="15" fill="#0010ff"/>
<rect x="197.51" y="221" width="6.61" height="15" fill="#0000ff"/>
<rect x="197.51" y="236" width="6.61" height="40" fill="#0000ef"/>
<rect x="197.51" y="276" width="6.61" height="35" fill="#0000df"/>
<rect x="197.51" y="311" width="6.61" height="45" fill="#0000cf"/>
<rect x="197.51" y="356" width="6.61" height="45" fill="#0000bf"/>
<rect x="197.51" y="401" width="6.61" height="30" fill="#0000af"/>
<rect x="197.51" y="431" width="6.61" height="25" fill="#00009f"/>
<rect x="197.51" y="456" width="6.61" height="25" fill="#00008f"/>
<rect x="204.12" y="66" width="6.61" height="45" fill="#00efff"/>
<rect x="204.12" y="111" width="6.61" height="5" fill="#00cfff"/>
<rect x="204.12" y="116" width="6.61" height="5" fill="#00afff"/>
<rect x="204.12" y="121" width="6.61" height="15" fill="#009fff"/>
<rect x="204.12" y="136" width="6.61" height="5" fill="#008fff"/>
<rect x="204.12" y="141" width="6.61" height="10" fill="#0080ff"/>
<rect x="204.12" y="151" width="6.61" height="5" fill="#0070ff"/>
<rect x="204.12" y="156" width="6.61" height="10" fill="#0060ff"/>
<rect x="204.12" y="166" width="6.61" height="5" fill="#0050ff"/>
<rect x="204.12" y="171" width="6.61" height="15" fill="#0040ff"/>
<rect x="204.12" y="186" width="6.61" height="5" fill="#0030ff"/>
<rect x="204.12" y="191" width="6.61" height="15" fill="#0020ff"/>
<rect x="204.12" y="206" width="6.61" height="10" fill="#0010ff"/>
<rect x="204.12" y="216" width="6.61" height="30" fill="#0000ff"/>
<rect x="204.12" y="246" width="6.61" height="20" fill="#0000ef"/>
<rect x="204.12" y="266" width="6.61" height="60" fill="#0000df"/>
<rect x="204.12" y="326" width="6.61" height="30" fill="#0000cf"/>
<rect x="204.12" y="356" width="6.61" height="45" fill="#0000bf"/>
<rect x="204.12" y="401" width="6.61" height="35" fill="#0000af"/>
<rect x="204.12" y="436" width="6.61" height="30" fill="#00009f"/>
<rect x="204.12" y="466" width="6.61" height="15" fill="#00008f"/>
<rect x="210.73" y="66" width="6.61" height="30" fill="#30ffcf"/>
<rect x="210.73" y="96" width="6.61" height="10" fill="#10ffef"/>
<rect x="210.73" y="106" width="6.61" height="10" fill="#00cfff"/>
<rect x="210.73" y="116" width="6.61" height="5" fill="#00afff"/>
<rect x="210.73" y="121" width="6.61" height="15" fill="#009fff"/>
<rect x="210.73" y="136" width="6.61" height="10" fill="#008fff"/>
<rect x="210.73" y="146" width="6.61" height="5" fill="#0080ff"/>
<rect x="210.73" y="151" width="6.61" height="5" fill="#0070ff"/>
<rect x="210.73" y="156" width="6.61" height="10" fill="#0060ff"/>
<rect x="210.73" y="166" width="6.61" height="5" fill="#0050ff"/>
<rect x="210.73" y="171" width="6.61" height="10" fill="#0040ff"/>
<rect x="210.73" y="181" width="6.61" height="15" fill="#0030ff"/>
<rect x="210.73" y="196" width="6.61" height="20" fill="#0020ff"/>
<rect x="210.73" y="216" width="6.61" height="10" fill="#0010ff"/>
<rect x="210.73" y="226" width="6.61" height="15" fill="#0000ff"/>
<rect x="210.73" y="241" width="6.61" height="40" fill="#0000ef"/>
<rect x="210.73" y="281" width="6.61" height="20" fill="#0000df"/>
<rect x="210.73" y="301" width="6.61" height="5" fill="#0000cf"/>
<rect x="210.73" y="306" width="6.61" height="20" fill="#0000df"/>
<rect x="210.73" y="326" width="6.61" height="5" fill="#0000cf"/>
<rect x="210.73" y="331" width="6.61" height="5" fill="#0000df"/>
<rect x="210.73" y="336" width="6.61" height="30" fill="#0000cf"/>
<rect x="210.73" y="366" width="6.61" height="20" fill="#0000bf"/>
<rect x="210.73" y="386" width="6.61" height="50" fill="#0000af"/>
<rect x="210.73" y="436" width="6.61" height="30" fill="#00009f"/>
<rect x="210.73" y="466" width="6.61" height="15" fill="#00008f"/>
<rect x="217.34" y="66" width="6.61" height="35" fill="#10ffef"/>
<rect x="217.34" y="101" width="6.61" height="5" fill="#00efff"/>
<rect x="217.34" y="106" width="6.61" height="25" fill="#00afff"/>
<rect x="217.34" y="131" width="6.61" height="5" fill="#009fff"/>
<rect x="217.34" y="136" width="6.61" height="15" fill="#008fff"/>
<rect x="217.34" y="151" width="6.61" height="5" fill="#0080ff"/>
<rect x="217.34" y="156" width="6.61" height="15" fill="#0070ff"/>
<rect x="217.34" y="171" width="6.61" height="5" fill="#0060ff"/>
<rect x="217.34" y="176" width="6.61" height="5" fill="#0050ff"/>
<rect x="217.34" y="181" width="6.61" height="10" fill="#0040ff"/>
<rect x="217.34" y="191" width="6.61" height="5" fill="#0030ff"/>
<rect x="217.34" y="196" width="6.61" height="20" fill="#0020ff"/>
<rect x="217.34" y="216" width="6.61" height="10" fill="#0010ff"/>
<rect x="217.34" y="226" width="6.61" height="15" fill="#0000ff"/>
<rect x="217.34" y="241" width="6.61" height="10" fill="#0000ef"/>
<rect x="217.34" y="251" width="6.61" height="10" fill="#0000ff"/>
<rect x="217.34" y="261" width="6.61" height="20" fill="#0000ef"/>
<rect x="217.34" y="281" width="6.61" height="65" fill="#0000df"/>
<rect x="217.34" y="346" width="6.61" height="20" fill="#0000cf"/>
<rect x="217.34" y="366" width="6.61" height="40" fill="#0000bf"/>
<rect x="217.34" y="406" width="6.61" height="20" fill="#0000af"/>
<rect x="217.34" y="426" width="6.61" height="35" fill="#00009f"/>
<rect x="217.34" y="461" width="6.61" height="20" fill="#00008f"/>
<rect x="223.95" y="66" width="6.61" height="40" fill="#00efff"/>
<rect x="223.95" y="106" width="6.61" height="10" fill="#00cfff"/>
<rect x="223.95" y="116" width="6.61" height="20" fill="#00afff"/>
<rect x="223.95" y="136" width="6.61" height="5" fill="#009fff"/>
<rect x="223.95" y="141" width="6.61" height="5" fill="#008fff"/>
<rect x="223.95" y="146" width="6.61" height="5" fill="#0080ff"/>
<rect x="223.95" y="151" width="6.61" height="5" fill="#0070ff"/>
<rect x="223.95" y="156" width="6.61" height="10" fill="#0060ff"/>
<rect x="223.95" y="166" width="6.61" height="15" fill="#0050ff"/>
<rect x="223.95" y="181" width="6.61" height="10" fill="#0040ff"/>
<rect x="223.95" y="191" width="6.61" height="5" fill="#0030ff"/>
<rect x="223.95" y="196" width="6.61" height="20" fill="#0020ff"/>
<rect x="223.95" y="216" width="6.61" height="15" fill="#0010ff"/>
<rect x="223.95" y="231" width="6.61" height="15" fill="#0000ff"/>
<rect x="223.95" y="246" width="6.61" height="40" fill="#0000ef"/>
<rect x="223.95" y="286" width="6.61" height="65" fill="#0000df"/>
<rect x="223.95" y="351" width="6.61" height="20" fill="#0000cf"/>
<rect x="223.95" y="371" width="6.61" height="35" fill="#0000bf"/>
<rect x="223.95" y="406" width="6.61" height="25" fill="#0000af"/>
<rect x="223.95" y="431" width="6.61" height="25" fill="#00009f"/>
<rect x="223.95" y="456" width="6.61" height="25" fill="#00008f"/>
<rect x="230.56" y="66" width="6.61" height="45" fill="#00efff"/>
<rect x="230.56" y="111" width="6.61" height="5" fill="#00cfff"/>
<rect x="230.56" y="116" width="6.61" height="5" fill="#00afff"/>
<rect x="230.56" y="121" width="6.61" height="5" fill="#009fff"/>
<rect x="230.56" y="126" width="6.61" height="20" fill="#008fff"/>
<rect x="230.56" y="146" width="6.61" height="10" fill="#0080ff"/>
<rect x="230.56" y="156" width="6.61" height="5" fill="#0070ff"/>
<rect x="230.56" y="161" width="6.61" height="5" fill="#0060ff"/>
<rect x="230.56" y="166" width="6.61" height="10" fill="#0050ff"/>
<rect x="230.56" y="176" width="6.61" height="10" fill="#0040ff"/>
<rect x="230.56" y="186" width="6.61" height="10" fill="#0030ff"/>
<rect x="230.56" y="196" width="6.61" height="15" fill="#0020ff"/>
<rect x="230.56" y="211" width="6.61" height="20" fill="#0010ff"/>
<rect x="230.56" y="231" width="6.61" height="10" fill="#0000ff"/>
<rect x="230.56" y="241" width="6.61" height="20" fill="#0000ef"/>
<rect x="230.56" y="261" width="6.61" height="5" fill="#0000ff"/>
<rect x="230.56" y="266" width="6.61" height="25" fill="#0000ef"/>
<rect x="230.56" y="291" width="6.61" height="5" fill="#0000df"/>
<rect x="230.56" y="296" width="6.61" height="5" fill="#0000ef"/>
<rect x="230.56" y="301" width="6.61" height="25" fill="#0000df"/>
<rect x="230.56" y="326" width="6.61" height="30" fill="#0000cf"/>
<rect x="230.56" y="356" width="6.61" height="40" fill="#0000bf"/>
<rect x="230.56" y="396" width="6.61" height="40" fill="#0000af"/>
<rect x="230.56" y="436" width="6.61" height="20" fill="#00009f"/>
<rect x="230.56" y="456" width="6.61" height="25" fill="#00008f"/>
<rect x="237.17" y="66" width="6.61" height="45" fill="#10ffef"/>
<rect x="237.17" y="111" width="6.61" height="5" fill="#00efff"/>
<rect x="237.17" y="116" width="6.61" height="5" fill="#00cfff"/>
<rect x="237.17" y="121" width="6.61" height="15" fill="#009fff"/>
<rect x="237.17" y="136" width="6.61" height="5" fill="#008fff"/>
<rect x="237.17" y="141" width="6.61" height="5" fill="#009fff"/>
<rect x="237.17" y="146" width="6.61" height="5" fill="#008fff"/>
<rect x="237.17" y="151" width="6.61" height="5" fill="#0080ff"/>
<rect x="237.17" y="156" width="6.61" height="5" fill="#0070ff"/>
<rect x="237.17" y="161" width="6.61" height="5" fill="#0060ff"/>
<rect x="237.17" y="166" width="6.61" height="5" fill="#0050ff"/>
<rect x="237.17" y="171" width="6.61" height="10" fill="#0040ff"/>
<rect x="237.17" y="181" width="6.61" height="20" fill="#0030ff"/>
<rect x="237.17" y="201" width="6.61" height="15" fill="#0020ff"/>
<rect x="237.17" y="216" width="6.61" height="20" fill="#0010ff"/>
<rect x="237.17" y="236" width="6.61" height="20" fill="#0000ff"/>
<rect x="237.17" y="256" width="6.61" height="20" fill="#0000ef"/>
<rect x="237.17" y="276" width="6.61" height="5" fill="#0000df"/>
<rect x="237.17" y="281" width="6.61" height="5" fill="#0000ef"/>
<rect x="237.17" y="286" width="6.61" height="40" fill="#0000df"/>
<rect x="237.17" y="326" width="6.61" height="40" fill="#0000cf"/>
<rect x="237.17" y="366" width="6.61" height="25" fill="#0000bf"/>
<rect x="237.17" y="391" width="6.61" height="10" fill="#0000af"/>
<rect x="237.17" y="401" width="6.61" height="5" fill="#0000bf"/>
<rect x="237.17" y="406" width="6.61" height="35" fill="#0000af"/>
<rect x="237.17" y="441" width="6.61" height="20" fill="#00009f"/>
<rect x="237.17" y="461" width="6.61" height="20" fill="#00008f"/>
<rect x="243.78" y="66" width="6.61" height="20" fill="#00cfff"/>
<rect x="243.78" y="86" width="6.61" height="45" fill="#00afff"/>
<rect x="243.78" y="131" width="6.61" height="5" fill="#009fff"/>
<rect x="243.78" y="136" width="6.61" height="10" fill="#008fff"/>
<rect x="243.78" y="146" width="6.61" height="10" fill="#0080ff"/>
<rect x="243.78" y="156" width="6.61" height="5" fill="#0070ff"/>
<rect x="243.78" y="161" width="6.61" height="10" fill="#0060ff"/>
<rect x="243.78" y="171" width="6.61" height="5" fill="#0050ff"/>
<rect x="243.78" y="176" width="6.61" height="5" fill="#0040ff"/>
<rect x="243.78" y="181" width="6.61" height="5" fill="#0030ff"/>
<rect x="243.78" y="186" width="6.61" height="25" fill="#0020ff"/>
<rect x="243.78" y="211" width="6.61" height="15" fill="#0010ff"/>
<rect x="243.78" y="226" width="6.61" height="20" fill="#0000ff"/>
<rect x="243.78" y="246" width="6.61" height="5" fill="#0000ef"/>
<rect x="243.78" y="251" width="6.61" height="10" fill="#0000ff"/>
<rect x="243.78" y="261" width="6.61" height="20" fill="#0000ef"/>
<rect x="243.78" y="281" width="6.61" height="20" fill="#0000df"/>
<rect x="243.78" y="301" width="6.61" height="5" fill="#0000cf"/>
<rect x="243.78" y="306" width="6.61" height="10" fill="#0000df"/>
<rect x="243.78" y="316" width="6.61" height="10" fill="#0000cf"/>
<rect x="243.78" y="326" width="6.61" height="15" fill="#0000df"/>
<rect x="243.78" y="341" width="6.61" height="25" fill="#0000cf"/>
<rect x="243.78" y="366" width="6.61" height="30" fill="#0000bf"/>
<rect x="243.78" y="396" width="6.61" height="5" fill="#0000af"/>
<rect x="243.78" y="401" width="6.61" height="10" fill="#0000bf"/>
<rect x="243.78" y="411" width="6.61" height="20" fill="#0000af"/>
<rect x="243.78" y="431" width="6.61" height="30" fill="#00009f"/>
<rect x="243.78" y="461" width="6.61" height="20" fill="#00008f"/>
<rect x="250.39" y="66" width="6.61" height="45" fill="#00afff"/>
<rect x="250.39" y="111" width="6.61" height="10" fill="#008fff"/>
<rect x="250.39" y="121" width="6.61" height="5" fill="#009fff"/>
<rect x="250.39" y="126" width="6.61" height="5" fill="#008fff"/>
<rect x="250.39" y="131" width="6.61" height="5" fill="#0080ff"/>
<rect x="250.39" y="136" width="6.61" height="15" fill="#0070ff"/>
<rect x="250.39" y="151" width="6.61" height="10" fill="#0060ff"/>
<rect x="250.39" y="161" width="6.61" height="10" fill="#0050ff"/>
<rect x="250.39" y="171" width="6.61" height="10" fill="#0040ff"/>
<rect x="250.39" y="181" width="6.61" height="10" fill="#0030ff"/>
<rect x="250.39" y="191" width="6.61" height="10" fill="#0020ff"/>
<rect x="250.39" y="201" width="6.61" height="15" fill="#0010ff"/>
<rect x="250.39" y="216" width="6.61" height="15" fill="#0000ff"/>
<rect x="250.39" y="231" width="6.61" height="50" fill="#0000ef"/>
<rect x="250.39" y="281" width="6.61" height="20" fill="#0000df"/>
<rect x="250.39" y="301" width="6.61" height="55" fill="#0000cf"/>
<rect x="250.39" y="356" width="6.61" height="40" fill="#0000bf"/>
<rect x="250.39" y="396" width="6.61" height="25" fill="#0000af"/>
<rect x="250.39" y="421" width="6.61" height="40" fill="#00009f"/>
<rect x="250.39" y="461" width="6.61" height="20" fill="#00008f"/>
<rect x="257.00" y="66" width="6.61" height="10" fill="#00cfff"/>
<rect x="257.00" y="76" width="6.61" height="35" fill="#00afff"/>
<rect x="257.00" y="111" width="6.61" height="10" fill="#008fff"/>
<rect x="257.00" y="121" width="6.61" height="5" fill="#009fff"/>
<rect x="257.00" y="126" width="6.61" height="15" fill="#008fff"/>
<rect x="257.00" y="141" width="6.61" height="10" fill="#0080ff"/>
<rect x="257.00" y="151" width="6.61" height="5" fill="#0070ff"/>
<rect x="257.00" y="156" width="6.61" height="10" fill="#0060ff"/>
<rect x="257.00" y="166" width="6.61" height="10" fill="#0050ff"/>
<rect x="257.00" y="176" width="6.61" height="10" fill="#0040ff"/>
<rect x="257.00" y="186" width="6.61" height="10" fill="#0030ff"/>
<rect x="257.00" y="196" width="6.61" height="10" fill="#0020ff"/>
<rect x="257.00" y="206" width="6.61" height="15" fill="#0010ff"/>
<rect x="257.00" y="221" width="6.61" height="10" fill="#0000ff"/>
<rect x="257.00" y="231" width="6.61" height="55" fill="#0000ef"/>
<rect x="257.00" y="286" width="6.61" height="20" fill="#0000df"/>
<rect x="257.00" y="306" width="6.61" height="45" fill="#0000cf"/>
<rect x="257.00" y="351" width="6.61" height="40" fill="#0000bf"/>
<rect x="257.00" y="391" width="6.61" height="35" fill="#0000af"/>
<rect x="257.00" y="426" width="6.61" height="30" fill="#00009f"/>
<rect x="257.00" y="456" width="6.61" height="25" fill="#00008f"/>
<rect x="263.61" y="66" width="6.61" height="15" fill="#00afff"/>
<rect x="263.61" y="81" width="6.61" height="40" fill="#008fff"/>
<rect x="263.61" y="121" width="6.61" height="5" fill="#009fff"/>
<rect x="263.61" y="126" width="6.61" height="15" fill="#008fff"/>
<rect x="263.61" y="141" width="6.61" height="15" fill="#0080ff"/>
<rect x="263.61" y="156" width="6.61" height="10" fill="#0070ff"/>
<rect x="263.61" y="166" width="6.61" height="10" fill="#0050ff"/>
<rect x="263.61" y="176" width="6.61" height="5" fill="#0040ff"/>
<rect x="263.61" y="181" width="6.61" height="5" fill="#0030ff"/>
<rect x="263.61" y="186" width="6.61" height="5" fill="#0020ff"/>
<rect x="263.61" y="191" width="6.61" height="30" fill="#0010ff"/>
<rect x="263.61" y="221" width="6.61" height="15" fill="#0000ff"/>
<rect x="263.61" y="236" width="6.61" height="15" fill="#0000ef"/>
<rect x="263.61" y="251" width="6.61" height="75" fill="#0000df"/>
<rect x="263.61" y="326" width="6.61" height="20" fill="#0000cf"/>
<rect x="263.61" y="346" width="6.61" height="55" fill="#0000bf"/>
<rect x="263.61" y="401" width="6.61" height="5" fill="#0000af"/>
<rect x="263.61" y="406" width="6.61" height="5" fill="#0000bf"/>
<rect x="263.61" y="411" width="6.61" height="10" fill="#0000af"/>
<rect x="263.61" y="421" width="6.61" height="40" fill="#00009f"/>
<rect x="263.61" y="461" width="6.61" height="20" fill="#00008f"/>
<rect x="270.22" y="66" width="6.61" height="15" fill="#00afff"/>
<rect x="270.22" y="81" width="6.61" height="40" fill="#008fff"/>
<rect x="270.22" y="121" width="6.61" height="5" fill="#0070ff"/>
<rect x="270.22" y="126" width="6.61" height="10" fill="#0060ff"/>
<rect x="270.22" y="136" width="6.61" height="5" fill="#0050ff"/>
<rect x="270.22" y="141" width="6.61" height="5" fill="#0060ff"/>
<rect x="270.22" y="146" width="6.61" height="10" fill="#0050ff"/>
<rect x="270.22" y="156" width="6.61" height="10" fill="#0040ff"/>
<rect x="270.22" y="166" width="6.61" height="10" fill="#0030ff"/>
<rect x="270.22" y="176" width="6.61" height="10" fill="#0020ff"/>
<rect x="270.22" y="186" width="6.61" height="5" fill="#0010ff"/>
<rect x="270.22" y="191" width="6.61" height="10" fill="#0020ff"/>
<rect x="270.22" y="201" width="6.61" height="10" fill="#0010ff"/>
<rect x="270.22" y="211" width="6.61" height="25" fill="#0000ff"/>
<rect x="270.22" y="236" width="6.61" height="25" fill="#0000ef"/>
<rect x="270.22" y="261" width="6.61" height="15" fill="#0000df"/>
<rect x="270.22" y="276" width="6.61" height="65" fill="#0000cf"/>
<rect x="270.22" y="341" width="6.61" height="20" fill="#0000bf"/>
<rect x="270.22" y="361" width="6.61" height="55" fill="#0000af"/>
<rect x="270.22" y="416" width="6.61" height="35" fill="#00009f"/>
<rect x="270.22" y="451" width="6.61" height="30" fill="#00008f"/>
<rect x="276.83" y="66" width="6.61" height="65" fill="#0070ff"/>
<rect x="276.83" y="131" width="6.61" height="20" fill="#0060ff"/>
<rect x="276.83" y="151" width="6.61" height="10" fill="#0050ff"/>
<rect x="276.83" y="161" width="6.61" height="5" fill="#0040ff"/>
<rect x="276.83" y="166" width="6.61" height="10" fill="#0030ff"/>
<rect x="276.83" y="176" width="6.61" height="10" fill="#0020ff"/>
<rect x="276.83" y="186" width="6.61" height="15" fill="#0010ff"/>
<rect x="276.83" y="201" width="6.61" height="20" fill="#0000ff"/>
<rect x="276.83" y="221" width="6.61" height="15" fill="#0000ef"/>
<rect x="276.83" y="236" width="6.61" height="5" fill="#0000df"/>
<rect x="276.83" y="241" width="6.61" height="5" fill="#0000ef"/>
<rect x="276.83" y="246" width="6.61" height="40" fill="#0000df"/>
<rect x="276.83" y="286" width="6.61" height="25" fill="#0000cf"/>
<rect x="276.83" y="311" width="6.61" height="65" fill="#0000bf"/>
<rect x="276.83" y="376" width="6.61" height="20" fill="#0000af"/>
<rect x="276.83" y="396" width="6.61" height="55" fill="#00009f"/>
<rect x="276.83" y="451" width="6.61" height="30" fill="#00008f"/>
<rect x="283.44" y="66" width="6.61" height="65" fill="#0070ff"/>
<rect x="283.44" y="131" width="6.61" height="5" fill="#0060ff"/>
<rect x="283.44" y="136" width="6.61" height="15" fill="#0050ff"/>
<rect x="283.44" y="151" width="6.61" height="5" fill="#0040ff"/>
<rect x="283.44" y="156" width="6.61" height="15" fill="#0030ff"/>
<rect x="283.44" y="171" width="6.61" height="15" fill="#0020ff"/>
<rect x="283.44" y="186" width="6.61" height="15" fill="#0010ff"/>
<rect x="283.44" y="201" width="6.61" height="35" fill="#0000ff"/>
<rect x="283.44" y="236" width="6.61" height="20" fill="#0000ef"/>
<rect x="283.44" y="256" width="6.61" height="45" fill="#0000df"/>
<rect x="283.44" y="301" width="6.61" height="20" fill="#0000cf"/>
<rect x="283.44" y="321" width="6.61" height="40" fill="#0000bf"/>
<rect x="283.44" y="361" width="6.61" height="50" fill="#0000af"/>
<rect x="283.44" y="411" width="6.61" height="35" fill="#00009f"/>
<rect x="283.44" y="446" width="6.61" height="35" fill="#00008f"/>
<rect x="290.05" y="66" width="6.61" height="65" fill="#0070ff"/>
<rect x="290.05" y="131" width="6.61" height="10" fill="#0060ff"/>
<rect x="290.05" y="141" width="6.61" height="10" fill="#0050ff"/>
<rect x="290.05" y="151" width="6.61" height="5" fill="#0040ff"/>
<rect x="290.05" y="156" width="6.61" height="10" fill="#0030ff"/>
<rect x="290.05" y="166" width="6.61" height="10" fill="#0020ff"/>
<rect x="290.05" y="176" width="6.61" height="15" fill="#0010ff"/>
<rect x="290.05" y="191" width="6.61" height="30" fill="#0000ff"/>
<rect x="290.05" y="221" width="6.61" height="25" fill="#0000ef"/>
<rect x="290.05" y="246" width="6.61" height="30" fill="#0000df"/>
<rect x="290.05" y="276" width="6.61" height="5" fill="#0000cf"/>
<rect x="290.05" y="281" width="6.61" height="5" fill="#0000df"/>
<rect x="290.05" y="286" width="6.61" height="45" fill="#0000cf"/>
<rect x="290.05" y="331" width="6.61" height="5" fill="#0000bf"/>
<rect x="290.05" y="336" width="6.61" height="5" fill="#0000cf"/>
<rect x="290.05" y="341" width="6.61" height="30" fill="#0000bf"/>
<rect x="290.05" y="371" width="6.61" height="40" fill="#0000af"/>
<rect x="290.05" y="411" width="6.61" height="40" fill="#00009f"/>
<rect x="290.05" y="451" width="6.61" height="30" fill="#00008f"/>
<rect x="296.66" y="66" width="6.61" height="55" fill="#0070ff"/>
<rect x="296.66" y="121" width="6.61" height="5" fill="#0080ff"/>
<rect x="296.66" y="126" width="6.61" height="10" fill="#0070ff"/>
<rect x="296.66" y="136" width="6.61" height="10" fill="#0060ff"/>
<rect x="296.66" y="146" width="6.61" height="5" fill="#0050ff"/>
<rect x="296.66" y="151" width="6.61" height="10" fill="#0040ff"/>
<rect x="296.66" y="161" width="6.61" height="15" fill="#0030ff"/>
<rect x="296.66" y="176" width="6.61" height="10" fill="#0020ff"/>
<rect x="296.66" y="186" width="6.61" height="10" fill="#0010ff"/>
<rect x="296.66" y="196" width="6.61" height="15" fill="#0000ff"/>
<rect x="296.66" y="211" width="6.61" height="35" fill="#0000ef"/>
<rect x="296.66" y="246" width="6.61" height="40" fill="#0000df"/>
<rect x="296.66" y="286" width="6.61" height="40" fill="#0000cf"/>
<rect x="296.66" y="326" width="6.61" height="5" fill="#0000bf"/>
<rect x="296.66" y="331" width="6.61" height="5" fill="#0000cf"/>
<rect x="296.66" y="336" width="6.61" height="30" fill="#0000bf"/>
<rect x="296.66" y="366" width="6.61" height="55" fill="#0000af"/>
<rect x="296.66" y="421" width="6.61" height="20" fill="#00009f"/>
<rect x="296.66" y="441" width="6.61" height="40" fill="#00008f"/>
<rect x="303.27" y="66" width="6.61" height="20" fill="#008fff"/>
<rect x="303.27" y="86" width="6.61" height="35" fill="#0070ff"/>
<rect x="303.27" y="121" width="6.61" height="5" fill="#009fff"/>
<rect x="303.27" y="126" width="6.61" height="10" fill="#008fff"/>
<rect x="303.27" y="136" width="6.61" height="10" fill="#0080ff"/>
<rect x="303.27" y="146" width="6.61" height="10" fill="#0070ff"/>
<rect x="303.27" y="156" width="6.61" height="5" fill="#0060ff"/>
<rect x="303.27" y="161" width="6.61" height="10" fill="#0040ff"/>
<rect x="303.27" y="171" width="6.61" height="10" fill="#0030ff"/>
<rect x="303.27" y="181" width="6.61" height="25" fill="#0020ff"/>
<rect x="303.27" y="206" width="6.61" height="15" fill="#0010ff"/>
<rect x="303.27" y="221" width="6.61" height="15" fill="#0000ff"/>
<rect x="303.27" y="236" width="6.61" height="20" fill="#0000ef"/>
<rect x="303.27" y="256" width="6.61" height="10" fill="#0000df"/>
<rect x="303.27" y="266" width="6.61" height="5" fill="#0000ef"/>
<rect x="303.27" y="271" width="6.61" height="50" fill="#0000df"/>
<rect x="303.27" y="321" width="6.61" height="25" fill="#0000cf"/>
<rect x="303.27" y="346" width="6.61" height="35" fill="#0000bf"/>
<rect x="303.27" y="381" width="6.61" height="35" fill="#0000af"/>
<rect x="303.27" y="416" width="6.61" height="30" fill="#00009f"/>
<rect x="303.27" y="446" width="6.61" height="35" fill="#00008f"/>
<rect x="309.88" y="66" width="6.61" height="30" fill="#00afff"/>
<rect x="309.88" y="96" width="6.61" height="25" fill="#008fff"/>
<rect x="309.88" y="121" width="6.61" height="10" fill="#00bfff"/>
<rect x="309.88" y="131" width="6.61" height="10" fill="#00afff"/>
<rect x="309.88" y="141" width="6.61" height="5" fill="#009fff"/>
<rect x="309.88" y="146" width="6.61" height="10" fill="#008fff"/>
<rect x="309.88" y="156" width="6.61" height="10" fill="#0080ff"/>
<rect x="309.88" y="166" width="6.61" height="10" fill="#0070ff"/>
<rect x="309.88" y="176" width="6.61" height="5" fill="#0060ff"/>
<rect x="309.88" y="181" width="6.61" height="5" fill="#0050ff"/>
<rect x="309.88" y="186" width="6.61" height="10" fill="#0040ff"/>
<rect x="309.88" y="196" width="6.61" height="15" fill="#0030ff"/>
<rect x="309.88" y="211" width="6.61" height="10" fill="#0020ff"/>
<rect x="309.88" y="221" width="6.61" height="15" fill="#0010ff"/>
<rect x="309.88" y="236" width="6.61" height="25" fill="#0000ff"/>
<rect x="309.88" y="261" width="6.61" height="45" fill="#0000ef"/>
<rect x="309.88" y="306" width="6.61" height="25" fill="#0000df"/>
<rect x="309.88" y="331" width="6.61" height="45" fill="#0000cf"/>
<rect x="309.88" y="376" width="6.61" height="45" fill="#0000bf"/>
<rect x="309.88" y="421" width="6.61" height="20" fill="#0000af"/>
<rect x="309.88" y="441" width="6.61" height="40" fill="#00009f"/>
<rect x="316.49" y="66" width="6.61" height="10" fill="#00cfff"/>
<rect x="316.49" y="76" width="6.61" height="45" fill="#00afff"/>
<rect x="316.49" y="121" width="6.61" height="5" fill="#00cfff"/>
<rect x="316.49" y="126" width="6.61" height="20" fill="#00bfff"/>
<rect x="316.49" y="146" width="6.61" height="5" fill="#00afff"/>
<rect x="316.49" y="151" width="6.61" height="5" fill="#009fff"/>
<rect x="316.49" y="156" width="6.61" height="5" fill="#008fff"/>
<rect x="316.49" y="161" width="6.61" height="10" fill="#0080ff"/>
<rect x="316.49" y="171" width="6.61" height="5" fill="#0070ff"/>
<rect x="316.49" y="176" width="6.61" height="10" fill="#0060ff"/>
<rect x="316.49" y="186" width="6.61" height="5" fill="#0050ff"/>
<rect x="316.49" y="191" width="6.61" height="5" fill="#0040ff"/>
<rect x="316.49" y="196" width="6.61" height="15" fill="#0030ff"/>
<rect x="316.49" y="211" width="6.61" height="15" fill="#0020ff"/>
<rect x="316.49" y="226" width="6.61" height="10" fill="#0010ff"/>
<rect x="316.49" y="236" width="6.61" height="45" fill="#0000ff"/>
<rect x="316.49" y="281" width="6.61" height="25" fill="#0000ef"/>
<rect x="316.49" y="306" width="6.61" height="30" fill="#0000df"/>
<rect x="316.49" y="336" width="6.61" height="25" fill="#0000cf"/>
<rect x="316.49" y="361" width="6.61" height="55" fill="#0000bf"/>
<rect x="316.49" y="416" width="6.61" height="25" fill="#0000af"/>
<rect x="316.49" y="441" width="6.61" height="30" fill="#00009f"/>
<rect x="316.49" y="471" width="6.61" height="10" fill="#00008f"/>
<rect x="323.10" y="66" width="6.61" height="35" fill="#00cfff"/>
<rect x="323.10" y="101" width="6.61" height="25" fill="#00afff"/>
<rect x="323.10" y="126" width="6.61" height="15" fill="#009fff"/>
<rect x="323.10" y="141" width="6.61" height="5" fill="#008fff"/>
<rect x="323.10" y="146" width="6.61" height="10" fill="#0080ff"/>
<rect x="323.10" y="156" width="6.61" height="5" fill="#0070ff"/>
<rect x="323.10" y="161" width="6.61" height="5" fill="#0060ff"/>
<rect x="323.10" y="166" width="6.61" height="10" fill="#0050ff"/>
<rect x="323.10" y="176" width="6.61" height="15" fill="#0040ff"/>
<rect x="323.10" y="191" width="6.61" height="15" fill="#0030ff"/>
<rect x="323.10" y="206" width="6.61" height="15" fill="#0020ff"/>
<rect x="323.10" y="221" width="6.61" height="20" fill="#0010ff"/>
<rect x="323.10" y="241" width="6.61" height="20" fill="#0000ff"/>
<rect x="323.10" y="261" width="6.61" height="35" fill="#0000ef"/>
<rect x="323.10" y="296" width="6.61" height="45" fill="#0000df"/>
<rect x="323.10" y="341" width="6.61" height="25" fill="#0000cf"/>
<rect x="323.10" y="366" width="6.61" height="45" fill="#0000bf"/>
<rect x="323.10" y="411" width="6.61" height="25" fill="#0000af"/>
<rect x="323.10" y="436" width="6.61" height="30" fill="#00009f"/>
<rect x="323.10" y="466" width="6.61" height="15" fill="#00008f"/>
<rect x="329.71" y="66" width="6.61" height="20" fill="#00efff"/>
<rect x="329.71" y="86" width="6.61" height="35" fill="#00cfff"/>
<rect x="329.71" y="121" width="6.61" height="15" fill="#00bfff"/>
<rect x="329.71" y="136" width="6.61" height="5" fill="#00afff"/>
<rect x="329.71" y="141" width="6.61" height="10" fill="#009fff"/>
<rect x="329.71" y="151" width="6.61" height="5" fill="#008fff"/>
<rect x="329.71" y="156" width="6.61" height="10" fill="#0080ff"/>
<rect x="329.71" y="166" width="6.61" height="10" fill="#0060ff"/>
<rect x="329.71" y="176" width="6.61" height="5" fill="#0050ff"/>
<rect x="329.71" y="181" width="6.61" height="10" fill="#0040ff"/>
<rect x="329.71" y="191" width="6.61" height="25" fill="#0030ff"/>
<rect x="329.71" y="216" width="6.61" height="20" fill="#0020ff"/>
<rect x="329.71" y="236" width="6.61" height="5" fill="#0010ff"/>
<rect x="329.71" y="241" width="6.61" height="15" fill="#0000ff"/>
<rect x="329.71" y="256" width="6.61" height="50" fill="#0000ef"/>
<rect x="329.71" y="306" width="6.61" height="40" fill="#0000df"/>
<rect x="329.71" y="346" width="6.61" height="40" fill="#0000cf"/>
<rect x="329.71" y="386" width="6.61" height="30" fill="#0000bf"/>
<rect x="329.71" y="416" width="6.61" height="25" fill="#0000af"/>
<rect x="329.71" y="441" width="6.61" height="30" fill="#00009f"/>
<rect x="329.71" y="471" width="6.61" height="10" fill="#00008f"/>
<rect x="336.32" y="66" width="6.61" height="15" fill="#00cfff"/>
<rect x="336.32" y="81" width="6.61" height="40" fill="#00afff"/>
<rect x="336.32" y="121" width="6.61" height="5" fill="#00bfff"/>
<rect x="336.32" y="126" width="6.61" height="10" fill="#00afff"/>
<rect x="336.32" y="136" width="6.61" height="10" fill="#009fff"/>
<rect x="336.32" y="146" width="6.61" height="10" fill="#008fff"/>
<rect x="336.32" y="156" width="6.61" height="5" fill="#0080ff"/>
<rect x="336.32" y="161" width="6.61" height="5" fill="#0070ff"/>
<rect x="336.32" y="166" width="6.61" height="10" fill="#0060ff"/>
<rect x="336.32" y="176" width="6.61" height="5" fill="#0050ff"/>
<rect x="336.32" y="181" width="6.61" height="15" fill="#0040ff"/>
<rect x="336.32" y="196" width="6.61" height="10" fill="#0030ff"/>
<rect x="336.32" y="206" width="6.61" height="10" fill="#0020ff"/>
<rect x="336.32" y="216" width="6.61" height="20" fill="#0010ff"/>
<rect x="336.32" y="236" width="6.61" height="30" fill="#0000ff"/>
<rect x="336.32" y="266" width="6.61" height="30" fill="#0000ef"/>
<rect x="336.32" y="296" width="6.61" height="45" fill="#0000df"/>
<rect x="336.32" y="341" width="6.61" height="25" fill="#0000cf"/>
<rect x="336.32" y="366" width="6.61" height="5" fill="#0000bf"/>
<rect x="336.32" y="371" width="6.61" height="5" fill="#0000cf"/>
<rect x="336.32" y="376" width="6.61" height="30" fill="#0000bf"/>
<rect x="336.32" y="406" width="6.61" height="20" fill="#0000af"/>
<rect x="336.32" y="426" width="6.61" height="45" fill="#00009f"/>
<rect x="336.32" y="471" width="6.61" height="10" fill="#00008f"/>
<rect x="342.93" y="66" width="6.61" height="35" fill="#00afff"/>
<rect x="342.93" y="101" width="6.61" height="20" fill="#008fff"/>
<rect x="342.93" y="121" width="6.61" height="10" fill="#00bfff"/>
<rect x="342.93" y="131" width="6.61" height="10" fill="#00afff"/>
<rect x="342.93" y="141" width="6.61" height="5" fill="#009fff"/>
<rect x="342.93" y="146" width="6.61" height="5" fill="#008fff"/>
<rect x="342.93" y="151" width="6.61" height="10" fill="#0080ff"/>
<rect x="342.93" y="161" width="6.61" height="5" fill="#0070ff"/>
<rect x="342.93" y="166" width="6.61" height="10" fill="#0060ff"/>
<rect x="342.93" y="176" width="6.61" height="10" fill="#0050ff"/>
<rect x="342.93" y="186" width="6.61" height="10" fill="#0040ff"/>
<rect x="342.93" y="196" width="6.61" height="15" fill="#0030ff"/>
<rect x="342.93" y="211" width="6.61" height="15" fill="#0020ff"/>
<rect x="342.93" y="226" width="6.61" height="10" fill="#0010ff"/>
<rect x="342.93" y="236" width="6.61" height="25" fill="#0000ff"/>
<rect x="342.93" y="261" width="6.61" height="25" fill="#0000ef"/>
<rect x="342.93" y="286" width="6.61" height="60" fill="#0000df"/>
<rect x="342.93" y="346" width="6.61" height="25" fill="#0000cf"/>
<rect x="342.93" y="371" width="6.61" height="40" fill="#0000bf"/>
<rect x="342.93" y="411" width="6.61" height="30" fill="#0000af"/>
<rect x="342.93" y="441" width="6.61" height="25" fill="#00009f"/>
<rect x="349.54" y="66" width="6.61" height="25" fill="#00efff"/>
<rect x="349.54" y="91" width="6.61" height="15" fill="#00cfff"/>
<rect x="349.54" y="106" width="6.61" height="15" fill="#0070ff"/>
<rect x="349.54" y="121" width="6.61" height="5" fill="#00bfff"/>
<rect x="349.54" y="126" width="6.61" height="5" fill="#00afff"/>
<rect x="349.54" y="131" width="6.61" height="20" fill="#009fff"/>
<rect x="349.54" y="151" width="6.61" height="5" fill="#008fff"/>
<rect x="349.54" y="156" width="6.61" height="10" fill="#0080ff"/>
<rect x="349.54" y="166" width="6.61" height="5" fill="#0070ff"/>
<rect x="349.54" y="171" width="6.61" height="5" fill="#0060ff"/>
<rect x="349.54" y="176" width="6.61" height="5" fill="#0050ff"/>
<rect x="349.54" y="181" width="6.61" height="10" fill="#0040ff"/>
<rect x="349.54" y="191" width="6.61" height="5" fill="#0030ff"/>
<rect x="349.54" y="196" width="6.61" height="15" fill="#0020ff"/>
<rect x="349.54" y="211" width="6.61" height="10" fill="#0010ff"/>
<rect x="349.54" y="221" width="6.61" height="30" fill="#0000ff"/>
<rect x="349.54" y="251" width="6.61" height="5" fill="#0000ef"/>
<rect x="349.54" y="256" width="6.61" height="10" fill="#0000ff"/>
<rect x="349.54" y="266" width="6.61" height="25" fill="#0000ef"/>
<rect x="349.54" y="291" width="6.61" height="45" fill="#0000df"/>
<rect x="349.54" y="336" width="6.61" height="30" fill="#0000cf"/>
<rect x="349.54" y="366" width="6.61" height="40" fill="#0000bf"/>
<rect x="349.54" y="406" width="6.61" height="35" fill="#0000af"/>
<rect x="349.54" y="441" width="6.61" height="20" fill="#00009f"/>
<rect x="349.54" y="461" width="6.61" height="20" fill="#00008f"/>
<rect x="356.15" y="66" width="6.61" height="35" fill="#00cfff"/>
<rect x="356.15" y="101" width="6.61" height="5" fill="#00afff"/>
<rect x="356.15" y="106" width="6.61" height="15" fill="#0070ff"/>
<rect x="356.15" y="121" width="6.61" height="10" fill="#00bfff"/>
<rect x="356.15" y="131" width="6.61" height="5" fill="#00afff"/>
<rect x="356.15" y="136" width="6.61" height="5" fill="#009fff"/>
<rect x="356.15" y="141" width="6.61" height="10" fill="#008fff"/>
<rect x="356.15" y="151" width="6.61" height="5" fill="#0080ff"/>
<rect x="356.15" y="156" width="6.61" height="5" fill="#0070ff"/>
<rect x="356.15" y="161" width="6.61" height="15" fill="#0060ff"/>
<rect x="356.15" y="176" width="6.61" height="10" fill="#0050ff"/>
<rect x="356.15" y="186" width="6.61" height="5" fill="#0040ff"/>
<rect x="356.15" y="191" width="6.61" height="10" fill="#0030ff"/>
<rect x="356.15" y="201" width="6.61" height="10" fill="#0020ff"/>
<rect x="356.15" y="211" width="6.61" height="15" fill="#0010ff"/>
<rect x="356.15" y="226" width="6.61" height="25" fill="#0000ff"/>
<rect x="356.15" y="251" width="6.61" height="40" fill="#0000ef"/>
<rect x="356.15" y="291" width="6.61" height="40" fill="#0000df"/>
<rect x="356.15" y="331" width="6.61" height="20" fill="#0000cf"/>
<rect x="356.15" y="351" width="6.61" height="50" fill="#0000bf"/>
<rect x="356.15" y="401" width="6.61" height="35" fill="#0000af"/>
<rect x="356.15" y="436" width="6.61" height="30" fill="#00009f"/>
<rect x="362.76" y="66" width="6.61" height="35" fill="#00efff"/>
<rect x="362.76" y="101" width="6.61" height="5" fill="#00cfff"/>
<rect x="362.76" y="106" width="6.61" height="30" fill="#00afff"/>
<rect x="362.76" y="136" width="6.61" height="10" fill="#009fff"/>
<rect x="362.76" y="146" width="6.61" height="10" fill="#008fff"/>
<rect x="362.76" y="156" width="6.61" height="5" fill="#0080ff"/>
<rect x="362.76" y="161" width="6.61" height="10" fill="#0070ff"/>
<rect x="362.76" y="171" width="6.61" height="5" fill="#0060ff"/>
<rect x="362.76" y="176" width="6.61" height="10" fill="#0050ff"/>
<rect x="362.76" y="186" width="6.61" height="5" fill="#0040ff"/>
<rect x="362.76" y="191" width="6.61" height="5" fill="#0030ff"/>
<rect x="362.76" y="196" width="6.61" height="25" fill="#0020ff"/>
<rect x="362.76" y="221" width="6.61" height="5" fill="#0010ff"/>
<rect x="362.76" y="226" width="6.61" height="10" fill="#0020ff"/>
<rect x="362.76" y="236" width="6.61" height="15" fill="#0010ff"/>
<rect x="362.76" y="251" width="6.61" height="10" fill="#0000ff"/>
<rect x="362.76" y="261" width="6.61" height="30" fill="#0000ef"/>
<rect x="362.76" y="291" width="6.61" height="25" fill="#0000df"/>
<rect x="362.76" y="316" width="6.61" height="55" fill="#0000cf"/>
<rect x="362.76" y="371" width="6.61" height="50" fill="#0000bf"/>
<rect x="362.76" y="421" width="6.61" height="20" fill="#0000af"/>
<rect x="362.76" y="441" width="6.61" height="20" fill="#00009f"/>
<rect x="362.76" y="461" width="6.61" height="20" fill="#00008f"/>
<rect x="369.37" y="66" width="6.61" height="40" fill="#00efff"/>
<rect x="369.37" y="106" width="6.61" height="5" fill="#00cfff"/>
<rect x="369.37" y="111" width="6.61" height="10" fill="#00afff"/>
<rect x="369.37" y="121" width="6.61" height="5" fill="#00bfff"/>
<rect x="369.37" y="126" width="6.61" height="15" fill="#00afff"/>
<rect x="369.37" y="141" width="6.61" height="15" fill="#009fff"/>
<rect x="369.37" y="156" width="6.61" height="5" fill="#008fff"/>
<rect x="369.37" y="161" width="6.61" height="5" fill="#0080ff"/>
<rect x="369.37" y="166" width="6.61" height="10" fill="#0070ff"/>
<rect x="369.37" y="176" width="6.61" height="5" fill="#0060ff"/>
<rect x="369.37" y="181" width="6.61" height="10" fill="#0050ff"/>
<rect x="369.37" y="191" width="6.61" height="5" fill="#0040ff"/>
<rect x="369.37" y="196" width="6.61" height="10" fill="#0030ff"/>
<rect x="369.37" y="206" width="6.61" height="15" fill="#0020ff"/>
<rect x="369.37" y="221" width="6.61" height="15" fill="#0010ff"/>
<rect x="369.37" y="236" width="6.61" height="20" fill="#0000ff"/>
<rect x="369.37" y="256" width="6.61" height="35" fill="#0000ef"/>
<rect x="369.37" y="291" width="6.61" height="40" fill="#0000df"/>
<rect x="369.37" y="331" width="6.61" height="40" fill="#0000cf"/>
<rect x="369.37" y="371" width="6.61" height="40" fill="#0000bf"/>
<rect x="369.37" y="411" width="6.61" height="20" fill="#0000af"/>
<rect x="369.37" y="431" width="6.61" height="30" fill="#00009f"/>
<rect x="369.37" y="461" width="6.61" height="20" fill="#00008f"/>
<rect x="375.98" y="66" width="6.61" height="20" fill="#10ffef"/>
<rect x="375.98" y="86" width="6.61" height="10" fill="#00efff"/>
<rect x="375.98" y="96" width="6.61" height="5" fill="#00cfff"/>
<rect x="375.98" y="101" width="6.61" height="5" fill="#00efff"/>
<rect x="375.98" y="106" width="6.61" height="15" fill="#00cfff"/>
<rect x="375.98" y="121" width="6.61" height="10" fill="#00bfff"/>
<rect x="375.98" y="131" width="6.61" height="20" fill="#00afff"/>
<rect x="375.98" y="151" width="6.61" height="5" fill="#009fff"/>
<rect x="375.98" y="156" width="6.61" height="5" fill="#008fff"/>
<rect x="375.98" y="161" width="6.61" height="10" fill="#0080ff"/>
<rect x="375.98" y="171" width="6.61" height="5" fill="#0070ff"/>
<rect x="375.98" y="176" width="6.61" height="10" fill="#0060ff"/>
<rect x="375.98" y="186" width="6.61" height="15" fill="#0050ff"/>
<rect x="375.98" y="201" width="6.61" height="5" fill="#0040ff"/>
<rect x="375.98" y="206" width="6.61" height="10" fill="#0030ff"/>
<rect x="375.98" y="216" width="6.61" height="10" fill="#0020ff"/>
<rect x="375.98" y="226" width="6.61" height="20" fill="#0010ff"/>
<rect x="375.98" y="246" width="6.61" height="25" fill="#0000ff"/>
<rect x="375.98" y="271" width="6.61" height="30" fill="#0000ef"/>
<rect x="375.98" y="301" width="6.61" height="35" fill="#0000df"/>
<rect x="375.98" y="336" width="6.61" height="5" fill="#0000cf"/>
<rect x="375.98" y="341" width="6.61" height="10" fill="#0000df"/>
<rect x="375.98" y="351" width="6.61" height="20" fill="#0000cf"/>
<rect x="375.98" y="371" width="6.61" height="40" fill="#0000bf"/>
<rect x="375.98" y="411" width="6.61" height="30" fill="#0000af"/>
<rect x="375.98" y="441" width="6.61" height="35" fill="#00009f"/>
<rect x="375.98" y="476" width="6.61" height="5" fill="#00008f"/>
<rect x="382.59" y="66" width="6.61" height="20" fill="#10ffef"/>
<rect x="382.59" y="86" width="6.61" height="10" fill="#00efff"/>
<rect x="382.59" y="96" width="6.61" height="5" fill="#00cfff"/>
<rect x="382.59" y="101" width="6.61" height="10" fill="#00efff"/>
<rect x="382.59" y="111" width="6.61" height="10" fill="#00cfff"/>
<rect x="382.59" y="121" width="6.61" height="10" fill="#00afff"/>
<rect x="382.59" y="131" width="6.61" height="5" fill="#009fff"/>
<rect x="382.59" y="136" width="6.61" height="15" fill="#008fff"/>
<rect x="382.59" y="151" width="6.61" height="10" fill="#0080ff"/>
<rect x="382.59" y="161" width="6.61" height="10" fill="#0070ff"/>
<rect x="382.59" y="171" width="6.61" height="10" fill="#0060ff"/>
<rect x="382.59" y="181" width="6.61" height="5" fill="#0050ff"/>
<rect x="382.59" y="186" width="6.61" height="5" fill="#0040ff"/>
<rect x="382.59" y="191" width="6.61" height="20" fill="#0030ff"/>
<rect x="382.59" y="211" width="6.61" height="5" fill="#0020ff"/>
<rect x="382.59" y="216" width="6.61" height="5" fill="#0030ff"/>
<rect x="382.59" y="221" width="6.61" height="5" fill="#0020ff"/>
<rect x="382.59" y="226" width="6.61" height="15" fill="#0010ff"/>
<rect x="382.59" y="241" width="6.61" height="25" fill="#0000ff"/>
<rect x="382.59" y="266" width="6.61" height="40" fill="#0000ef"/>
<rect x="382.59" y="306" width="6.61" height="25" fill="#0000df"/>
<rect x="382.59" y="331" width="6.61" height="45" fill="#0000cf"/>
<rect x="382.59" y="376" width="6.61" height="20" fill="#0000bf"/>
<rect x="382.59" y="396" width="6.61" height="40" fill="#0000af"/>
<rect x="382.59" y="436" width="6.61" height="30" fill="#00009f"/>
<rect x="382.59" y="466" width="6.61" height="15" fill="#00008f"/>
<rect x="389.20" y="66" width="6.61" height="25" fill="#10ffef"/>
<rect x="389.20" y="91" width="6.61" height="5" fill="#00efff"/>
<rect x="389.20" y="96" width="6.61" height="5" fill="#00cfff"/>
<rect x="389.20" y="101" width="6.61" height="10" fill="#00efff"/>
<rect x="389.20" y="111" width="6.61" height="10" fill="#00cfff"/>
<rect x="389.20" y="121" width="6.61" height="20" fill="#00afff"/>
<rect x="389.20" y="141" width="6.61" height="10" fill="#009fff"/>
<rect x="389.20" y="151" width="6.61" height="5" fill="#008fff"/>
<rect x="389.20" y="156" width="6.61" height="10" fill="#0080ff"/>
<rect x="389.20" y="166" width="6.61" height="5" fill="#0070ff"/>
<rect x="389.20" y="171" width="6.61" height="10" fill="#0060ff"/>
<rect x="389.20" y="181" width="6.61" height="5" fill="#0050ff"/>
<rect x="389.20" y="186" width="6.61" height="5" fill="#0040ff"/>
<rect x="389.20" y="191" width="6.61" height="15" fill="#0030ff"/>
<rect x="389.20" y="206" width="6.61" height="20" fill="#0020ff"/>
<rect x="389.20" y="226" width="6.61" height="15" fill="#0010ff"/>
<rect x="389.20" y="241" width="6.61" height="20" fill="#0000ff"/>
<rect x="389.20" y="261" width="6.61" height="35" fill="#0000ef"/>
<rect x="389.20" y="296" width="6.61" height="40" fill="#0000df"/>
<rect x="389.20" y="336" width="6.61" height="40" fill="#0000cf"/>
<rect x="389.20" y="376" width="6.61" height="40" fill="#0000bf"/>
<rect x="389.20" y="416" width="6.61" height="20" fill="#0000af"/>
<rect x="389.20" y="436" width="6.61" height="30" fill="#00009f"/>
<rect x="389.20" y="466" width="6.61" height="15" fill="#00008f"/>
<rect x="395.81" y="66" width="6.61" height="15" fill="#30ffcf"/>
<rect x="395.81" y="81" width="6.61" height="10" fill="#10ffef"/>
<rect x="395.81" y="91" width="6.61" height="20" fill="#00efff"/>
<rect x="395.81" y="111" width="6.61" height="10" fill="#00cfff"/>
<rect x="395.81" y="121" width="6.61" height="5" fill="#00afff"/>
<rect x="395.81" y="126" width="6.61" height="20" fill="#009fff"/>
<rect x="395.81" y="146" width="6.61" height="10" fill="#008fff"/>
<rect x="395.81" y="156" width="6.61" height="5" fill="#0080ff"/>
<rect x="395.81" y="161" width="6.61" height="5" fill="#0070ff"/>
<rect x="395.81" y="166" width="6.61" height="10" fill="#0060ff"/>
<rect x="395.81" y="176" width="6.61" height="5" fill="#0050ff"/>
<rect x="395.81" y="181" width="6.61" height="10" fill="#0040ff"/>
<rect x="395.81" y="191" width="6.61" height="5" fill="#0030ff"/>
<rect x="395.81" y="196" width="6.61" height="5" fill="#0040ff"/>
<rect x="395.81" y="201" width="6.61" height="15" fill="#0030ff"/>
<rect x="395.81" y="216" width="6.61" height="10" fill="#0020ff"/>
<rect x="395.81" y="226" width="6.61" height="5" fill="#0010ff"/>
<rect x="395.81" y="231" width="6.61" height="35" fill="#0000ff"/>
<rect x="395.81" y="266" width="6.61" height="35" fill="#0000ef"/>
<rect x="395.81" y="301" width="6.61" height="35" fill="#0000df"/>
<rect x="395.81" y="336" width="6.61" height="40" fill="#0000cf"/>
<rect x="395.81" y="376" width="6.61" height="30" fill="#0000bf"/>
<rect x="395.81" y="406" width="6.61" height="35" fill="#0000af"/>
<rect x="395.81" y="441" width="6.61" height="30" fill="#00009f"/>
<rect x="395.81" y="471" width="6.61" height="10" fill="#00008f"/>
<rect x="402.42" y="66" width="6.61" height="10" fill="#70ff8f"/>
<rect x="402.42" y="76" width="6.61" height="5" fill="#30ffcf"/>
<rect x="402.42" y="81" width="6.61" height="10" fill="#10ffef"/>
<rect x="402.42" y="91" width="6.61" height="15" fill="#00efff"/>
<rect x="402.42" y="106" width="6.61" height="5" fill="#00cfff"/>
<rect x="402.42" y="111" width="6.61" height="10" fill="#00afff"/>
<rect x="402.42" y="121" width="6.61" height="5" fill="#00bfff"/>
<rect x="402.42" y="126" width="6.61" height="10" fill="#00afff"/>
<rect x="402.42" y="136" width="6.61" height="5" fill="#009fff"/>
<rect x="402.42" y="141" width="6.61" height="10" fill="#008fff"/>
<rect x="402.42" y="151" width="6.61" height="5" fill="#0080ff"/>
<rect x="402.42" y="156" width="6.61" height="5" fill="#0070ff"/>
<rect x="402.42" y="161" width="6.61" height="15" fill="#0060ff"/>
<rect x="402.42" y="176" width="6.61" height="10" fill="#0050ff"/>
<rect x="402.42" y="186" width="6.61" height="15" fill="#0040ff"/>
<rect x="402.42" y="201" width="6.61" height="5" fill="#0030ff"/>
<rect x="402.42" y="206" width="6.61" height="10" fill="#0020ff"/>
<rect x="402.42" y="216" width="6.61" height="10" fill="#0010ff"/>
<rect x="402.42" y="226" width="6.61" height="30" fill="#0000ff"/>
<rect x="402.42" y="256" width="6.61" height="35" fill="#0000ef"/>
<rect x="402.42" y="291" width="6.61" height="60" fill="#0000df"/>
<rect x="402.42" y="351" width="6.61" height="15" fill="#0000cf"/>
<rect x="402.42" y="366" width="6.61" height="45" fill="#0000bf"/>
<rect x="402.42" y="411" width="6.61" height="30" fill="#0000af"/>
<rect x="402.42" y="441" width="6.61" height="25" fill="#00009f"/>
<rect x="409.03" y="66" width="6.61" height="15" fill="#70ff8f"/>
<rect x="409.03" y="81" width="6.61" height="5" fill="#30ffcf"/>
<rect x="409.03" y="86" width="6.61" height="10" fill="#10ffef"/>
<rect x="409.03" y="96" width="6.61" height="5" fill="#00cfff"/>
<rect x="409.03" y="101" width="6.61" height="5" fill="#00efff"/>
<rect x="409.03" y="106" width="6.61" height="5" fill="#00cfff"/>
<rect x="409.03" y="111" width="6.61" height="15" fill="#00afff"/>
<rect x="409.03" y="126" width="6.61" height="5" fill="#009fff"/>
<rect x="409.03" y="131" width="6.61" height="5" fill="#008fff"/>
<rect x="409.03" y="136" width="6.61" height="5" fill="#009fff"/>
<rect x="409.03" y="141" width="6.61" height="5" fill="#008fff"/>
<rect x="409.03" y="146" width="6.61" height="10" fill="#0080ff"/>
<rect x="409.03" y="156" width="6.61" height="5" fill="#0070ff"/>
<rect x="409.03" y="161" width="6.61" height="5" fill="#0060ff"/>
<rect x="409.03" y="166" width="6.61" height="5" fill="#0050ff"/>
<rect x="409.03" y="171" width="6.61" height="10" fill="#0040ff"/>
<rect x="409.03" y="181" width="6.61" height="20" fill="#0030ff"/>
<rect x="409.03" y="201" width="6.61" height="5" fill="#0020ff"/>
<rect x="409.03" y="206" width="6.61" height="15" fill="#0010ff"/>
<rect x="409.03" y="221" width="6.61" height="20" fill="#0000ff"/>
<rect x="409.03" y="241" width="6.61" height="50" fill="#0000ef"/>
<rect x="409.03" y="291" width="6.61" height="20" fill="#0000df"/>
<rect x="409.03" y="311" width="6.61" height="60" fill="#0000cf"/>
<rect x="409.03" y="371" width="6.61" height="40" fill="#0000bf"/>
<rect x="409.03" y="411" width="6.61" height="25" fill="#0000af"/>
<rect x="409.03" y="436" width="6.61" height="35" fill="#00009f"/>
<rect x="409.03" y="471" width="6.61" height="10" fill="#00008f"/>
<rect x="415.64" y="66" width="6.61" height="10" fill="#afff50"/>
<rect x="415.64" y="76" width="6.61" height="5" fill="#70ff8f"/>
<rect x="415.64" y="81" width="6.61" height="5" fill="#30ffcf"/>
<rect x="415.64" y="86" width="6.61" height="5" fill="#10ffef"/>
<rect x="415.64" y="91" width="6.61" height="5" fill="#00efff"/>
<rect x="415.64" y="96" width="6.61" height="15" fill="#00cfff"/>
<rect x="415.64" y="111" width="6.61" height="10" fill="#00afff"/>
<rect x="415.64" y="121" width="6.61" height="10" fill="#00bfff"/>
<rect x="415.64" y="131" width="6.61" height="5" fill="#00afff"/>
<rect x="415.64" y="136" width="6.61" height="15" fill="#009fff"/>
<rect x="415.64" y="151" width="6.61" height="5" fill="#008fff"/>
<rect x="415.64" y="156" width="6.61" height="10" fill="#0080ff"/>
<rect x="415.64" y="166" width="6.61" height="5" fill="#0070ff"/>
<rect x="415.64" y="171" width="6.61" height="5" fill="#0060ff"/>
<rect x="415.64" y="176" width="6.61" height="20" fill="#0050ff"/>
<rect x="415.64" y="196" width="6.61" height="5" fill="#0040ff"/>
<rect x="415.64" y="201" width="6.61" height="10" fill="#0030ff"/>
<rect x="415.64" y="211" width="6.61" height="5" fill="#0020ff"/>
<rect x="415.64" y="216" width="6.61" height="20" fill="#0010ff"/>
<rect x="415.64" y="236" width="6.61" height="35" fill="#0000ff"/>
<rect x="415.64" y="271" width="6.61" height="25" fill="#0000ef"/>
<rect x="415.64" y="296" width="6.61" height="35" fill="#0000df"/>
<rect x="415.64" y="331" width="6.61" height="45" fill="#0000cf"/>
<rect x="415.64" y="376" width="6.61" height="25" fill="#0000bf"/>
<rect x="415.64" y="401" width="6.61" height="30" fill="#0000af"/>
<rect x="415.64" y="431" width="6.61" height="40" fill="#00009f"/>
<rect x="415.64" y="471" width="6.61" height="10" fill="#00008f"/>
<rect x="422.25" y="66" width="6.61" height="10" fill="#8fff70"/>
<rect x="422.25" y="76" width="6.61" height="5" fill="#70ff8f"/>
<rect x="422.25" y="81" width="6.61" height="5" fill="#30ffcf"/>
<rect x="422.25" y="86" width="6.61" height="5" fill="#10ffef"/>
<rect x="422.25" y="91" width="6.61" height="10" fill="#00efff"/>
<rect x="422.25" y="101" width="6.61" height="10" fill="#00cfff"/>
<rect x="422.25" y="111" width="6.61" height="10" fill="#00afff"/>
<rect x="422.25" y="121" width="6.61" height="10" fill="#00bfff"/>
<rect x="422.25" y="131" width="6.61" height="5" fill="#00afff"/>
<rect x="422.25" y="136" width="6.61" height="15" fill="#009fff"/>
<rect x="422.25" y="151" width="6.61" height="5" fill="#008fff"/>
<rect x="422.25" y="156" width="6.61" height="5" fill="#0080ff"/>
<rect x="422.25" y="161" width="6.61" height="10" fill="#0070ff"/>
<rect x="422.25" y="171" width="6.61" height="10" fill="#0060ff"/>
<rect x="422.25" y="181" width="6.61" height="10" fill="#0050ff"/>
<rect x="422.25" y="191" width="6.61" height="10" fill="#0040ff"/>
<rect x="422.25" y="201" width="6.61" height="20" fill="#0030ff"/>
<rect x="422.25" y="221" width="6.61" height="10" fill="#0020ff"/>
<rect x="422.25" y="231" width="6.61" height="5" fill="#0010ff"/>
<rect x="422.25" y="236" width="6.61" height="20" fill="#0000ff"/>
<rect x="422.25" y="256" width="6.61" height="45" fill="#0000ef"/>
<rect x="422.25" y="301" width="6.61" height="25" fill="#0000df"/>
<rect x="422.25" y="326" width="6.61" height="5" fill="#0000cf"/>
<rect x="422.25" y="331" width="6.61" height="5" fill="#0000df"/>
<rect x="422.25" y="336" width="6.61" height="25" fill="#0000cf"/>
<rect x="422.25" y="361" width="6.61" height="45" fill="#0000bf"/>
<rect x="422.25" y="406" width="6.61" height="20" fill="#0000af"/>
<rect x="422.25" y="426" width="6.61" height="45" fill="#00009f"/>
<rect x="422.25" y="471" width="6.61" height="10" fill="#00008f"/>
<rect x="428.86" y="66" width="6.61" height="10" fill="#efff10"/>
<rect x="428.86" y="76" width="6.61" height="5" fill="#cfff30"/>
<rect x="428.86" y="81" width="6.61" height="5" fill="#70ff8f"/>
<rect x="428.86" y="86" width="6.61" height="10" fill="#10ffef"/>
<rect x="428.86" y="96" width="6.61" height="5" fill="#00efff"/>
<rect x="428.86" y="101" width="6.61" height="10" fill="#00cfff"/>
<rect x="428.86" y="111" width="6.61" height="10" fill="#00afff"/>
<rect x="428.86" y="121" width="6.61" height="5" fill="#00bfff"/>
<rect x="428.86" y="126" width="6.61" height="10" fill="#00afff"/>
<rect x="428.86" y="136" width="6.61" height="10" fill="#009fff"/>
<rect x="428.86" y="146" width="6.61" height="5" fill="#008fff"/>
<rect x="428.86" y="151" width="6.61" height="10" fill="#0080ff"/>
<rect x="428.86" y="161" width="6.61" height="5" fill="#0070ff"/>
<rect x="428.86" y="166" width="6.61" height="5" fill="#0060ff"/>
<rect x="428.86" y="171" width="6.61" height="10" fill="#0050ff"/>
<rect x="428.86" y="181" width="6.61" height="10" fill="#0040ff"/>
<rect x="428.86" y="191" width="6.61" height="15" fill="#0030ff"/>
<rect x="428.86" y="206" width="6.61" height="10" fill="#0020ff"/>
<rect x="428.86" y="216" width="6.61" height="15" fill="#0010ff"/>
<rect x="428.86" y="231" width="6.61" height="35" fill="#0000ff"/>
<rect x="428.86" y="266" width="6.61" height="25" fill="#0000ef"/>
<rect x="428.86" y="291" width="6.61" height="60" fill="#0000df"/>
<rect x="428.86" y="351" width="6.61" height="20" fill="#0000cf"/>
<rect x="428.86" y="371" width="6.61" height="35" fill="#0000bf"/>
<rect x="428.86" y="406" width="6.61" height="25" fill="#0000af"/>
<rect x="428.86" y="431" width="6.61" height="35" fill="#00009f"/>
<rect x="428.86" y="466" width="6.61" height="15" fill="#00008f"/>
<rect x="435.47" y="66" width="6.61" height="15" fill="#cfff30"/>
<rect x="435.47" y="81" width="6.61" height="5" fill="#70ff8f"/>
<rect x="435.47" y="86" width="6.61" height="5" fill="#30ffcf"/>
<rect x="435.47" y="91" width="6.61" height="5" fill="#10ffef"/>
<rect x="435.47" y="96" width="6.61" height="10" fill="#00efff"/>
<rect x="435.47" y="106" width="6.61" height="15" fill="#00cfff"/>
<rect x="435.47" y="121" width="6.61" height="5" fill="#00bfff"/>
<rect x="435.47" y="126" width="6.61" height="10" fill="#00afff"/>
<rect x="435.47" y="136" width="6.61" height="10" fill="#009fff"/>
<rect x="435.47" y="146" width="6.61" height="5" fill="#008fff"/>
<rect x="435.47" y="151" width="6.61" height="15" fill="#0080ff"/>
<rect x="435.47" y="166" width="6.61" height="5" fill="#0070ff"/>
<rect x="435.47" y="171" width="6.61" height="10" fill="#0060ff"/>
<rect x="435.47" y="181" width="6.61" height="10" fill="#0050ff"/>
<rect x="435.47" y="191" width="6.61" height="5" fill="#0040ff"/>
<rect x="435.47" y="196" width="6.61" height="10" fill="#0030ff"/>
<rect x="435.47" y="206" width="6.61" height="5" fill="#0020ff"/>
<rect x="435.47" y="211" width="6.61" height="20" fill="#0010ff"/>
<rect x="435.47" y="231" width="6.61" height="25" fill="#0000ff"/>
<rect x="435.47" y="256" width="6.61" height="25" fill="#0000ef"/>
<rect x="435.47" y="281" width="6.61" height="50" fill="#0000df"/>
<rect x="435.47" y="331" width="6.61" height="5" fill="#0000cf"/>
<rect x="435.47" y="336" width="6.61" height="5" fill="#0000df"/>
<rect x="435.47" y="341" width="6.61" height="45" fill="#0000cf"/>
<rect x="435.47" y="386" width="6.61" height="30" fill="#0000bf"/>
<rect x="435.47" y="416" width="6.61" height="25" fill="#0000af"/>
<rect x="435.47" y="441" width="6.61" height="15" fill="#00009f"/>
<rect x="435.47" y="456" width="6.61" height="25" fill="#00008f"/>
<rect x="442.08" y="66" width="6.61" height="10" fill="#ffef00"/>
<rect x="442.08" y="76" width="6.61" height="5" fill="#efff10"/>
<rect x="442.08" y="81" width="6.61" height="5" fill="#cfff30"/>
<rect x="442.08" y="86" width="6.61" height="5" fill="#70ff8f"/>
<rect x="442.08" y="91" width="6.61" height="5" fill="#10ffef"/>
<rect x="442.08" y="96" width="6.61" height="10" fill="#00efff"/>
<rect x="442.08" y="106" width="6.61" height="15" fill="#00cfff"/>
<rect x="442.08" y="121" width="6.61" height="15" fill="#00bfff"/>
<rect x="442.08" y="136" width="6.61" height="10" fill="#00afff"/>
<rect x="442.08" y="146" width="6.61" height="5" fill="#009fff"/>
<rect x="442.08" y="151" width="6.61" height="10" fill="#008fff"/>
<rect x="442.08" y="161" width="6.61" height="5" fill="#0080ff"/>
<rect x="442.08" y="166" width="6.61" height="5" fill="#0060ff"/>
<rect x="442.08" y="171" width="6.61" height="10" fill="#0050ff"/>
<rect x="442.08" y="181" width="6.61" height="5" fill="#0040ff"/>
<rect x="442.08" y="186" width="6.61" height="15" fill="#0030ff"/>
<rect x="442.08" y="201" width="6.61" height="25" fill="#0020ff"/>
<rect x="442.08" y="226" width="6.61" height="25" fill="#0010ff"/>
<rect x="442.08" y="251" width="6.61" height="10" fill="#0000ff"/>
<rect x="442.08" y="261" width="6.61" height="40" fill="#0000ef"/>
<rect x="442.08" y="301" width="6.61" height="40" fill="#0000df"/>
<rect x="442.08" y="341" width="6.61" height="5" fill="#0000cf"/>
<rect x="442.08" y="346" width="6.61" height="10" fill="#0000df"/>
<rect x="442.08" y="356" width="6.61" height="20" fill="#0000cf"/>
<rect x="442.08" y="376" width="6.61" height="20" fill="#0000bf"/>
<rect x="442.08" y="396" width="6.61" height="45" fill="#0000af"/>
<rect x="442.08" y="441" width="6.61" height="40" fill="#00009f"/>
<rect x="448.69" y="66" width="6.61" height="10" fill="#ffcf00"/>
<rect x="448.69" y="76" width="6.61" height="5" fill="#ffef00"/>
<rect x="448.69" y="81" width="6.61" height="5" fill="#efff10"/>
<rect x="448.69" y="86" width="6.61" height="5" fill="#70ff8f"/>
<rect x="448.69" y="91" width="6.61" height="5" fill="#30ffcf"/>
<rect x="448.69" y="96" width="6.61" height="5" fill="#10ffef"/>
<rect x="448.69" y="101" width="6.61" height="10" fill="#00efff"/>
<rect x="448.69" y="111" width="6.61" height="10" fill="#00cfff"/>
<rect x="448.69" y="121" width="6.61" height="5" fill="#00bfff"/>
<rect x="448.69" y="126" width="6.61" height="10" fill="#00afff"/>
<rect x="448.69" y="136" width="6.61" height="10" fill="#009fff"/>
<rect x="448.69" y="146" width="6.61" height="5" fill="#008fff"/>
<rect x="448.69" y="151" width="6.61" height="5" fill="#0080ff"/>
<rect x="448.69" y="156" width="6.61" height="10" fill="#0070ff"/>
<rect x="448.69" y="166" width="6.61" height="10" fill="#0060ff"/>
<rect x="448.69" y="176" width="6.61" height="5" fill="#0050ff"/>
<rect x="448.69" y="181" width="6.61" height="10" fill="#0040ff"/>
<rect x="448.69" y="191" width="6.61" height="15" fill="#0030ff"/>
<rect x="448.69" y="206" width="6.61" height="20" fill="#0020ff"/>
<rect x="448.69" y="226" width="6.61" height="15" fill="#0010ff"/>
<rect x="448.69" y="241" width="6.61" height="20" fill="#0000ff"/>
<rect x="448.69" y="261" width="6.61" height="10" fill="#0000ef"/>
<rect x="448.69" y="271" width="6.61" height="5" fill="#0000ff"/>
<rect x="448.69" y="276" width="6.61" height="25" fill="#0000ef"/>
<rect x="448.69" y="301" width="6.61" height="45" fill="#0000df"/>
<rect x="448.69" y="346" width="6.61" height="35" fill="#0000cf"/>
<rect x="448.69" y="381" width="6.61" height="40" fill="#0000bf"/>
<rect x="448.69" y="421" width="6.61" height="20" fill="#0000af"/>
<rect x="448.69" y="441" width="6.61" height="25" fill="#00009f"/>
<rect x="448.69" y="466" width="6.61" height="15" fill="#00008f"/>
<rect x="455.30" y="66" width="6.61" height="10" fill="#ffcf00"/>
<rect x="455.30" y="76" width="6.61" height="5" fill="#ffef00"/>
<rect x="455.30" y="81" width="6.61" height="5" fill="#efff10"/>
<rect x="455.30" y="86" width="6.61" height="5" fill="#50ffaf"/>
<rect x="455.30" y="91" width="6.61" height="10" fill="#10ffef"/>
<rect x="455.30" y="101" width="6.61" height="10" fill="#00efff"/>
<rect x="455.30" y="111" width="6.61" height="10" fill="#00cfff"/>
<rect x="455.30" y="121" width="6.61" height="10" fill="#00afff"/>
<rect x="455.30" y="131" width="6.61" height="10" fill="#009fff"/>
<rect x="455.30" y="141" width="6.61" height="10" fill="#008fff"/>
<rect x="455.30" y="151" width="6.61" height="10" fill="#0080ff"/>
<rect x="455.30" y="161" width="6.61" height="5" fill="#0070ff"/>
<rect x="455.30" y="166" width="6.61" height="10" fill="#0060ff"/>
<rect x="455.30" y="176" width="6.61" height="5" fill="#0050ff"/>
<rect x="455.30" y="181" width="6.61" height="5" fill="#0040ff"/>
<rect x="455.30" y="186" width="6.61" height="20" fill="#0030ff"/>
<rect x="455.30" y="206" width="6.61" height="15" fill="#0020ff"/>
<rect x="455.30" y="221" width="6.61" height="10" fill="#0010ff"/>
<rect x="455.30" y="231" width="6.61" height="15" fill="#0000ff"/>
<rect x="455.30" y="246" width="6.61" height="5" fill="#0000ef"/>
<rect x="455.30" y="251" width="6.61" height="5" fill="#0000ff"/>
<rect x="455.30" y="256" width="6.61" height="45" fill="#0000ef"/>
<rect x="455.30" y="301" width="6.61" height="35" fill="#0000df"/>
<rect x="455.30" y="336" width="6.61" height="55" fill="#0000cf"/>
<rect x="455.30" y="391" width="6.61" height="20" fill="#0000bf"/>
<rect x="455.30" y="411" width="6.61" height="35" fill="#0000af"/>
<rect x="455.30" y="446" width="6.61" height="25" fill="#00009f"/>
<rect x="455.30" y="471" width="6.61" height="10" fill="#00008f"/>
<rect x="461.91" y="66" width="6.61" height="10" fill="#ffaf00"/>
<rect x="461.91" y="76" width="6.61" height="10" fill="#ffef00"/>
<rect x="461.91" y="86" width="6.61" height="5" fill="#30ffcf"/>
<rect x="461.91" y="91" width="6.61" height="5" fill="#10ffef"/>
<rect x="461.91" y="96" width="6.61" height="10" fill="#00efff"/>
<rect x="461.91" y="106" width="6.61" height="15" fill="#00cfff"/>
<rect x="461.91" y="121" width="6.61" height="5" fill="#00bfff"/>
<rect x="461.91" y="126" width="6.61" height="10" fill="#00afff"/>
<rect x="461.91" y="136" width="6.61" height="15" fill="#009fff"/>
<rect x="461.91" y="151" width="6.61" height="10" fill="#0080ff"/>
<rect x="461.91" y="161" width="6.61" height="5" fill="#0070ff"/>
<rect x="461.91" y="166" width="6.61" height="10" fill="#0060ff"/>
<rect x="461.91" y="176" width="6.61" height="10" fill="#0050ff"/>
<rect x="461.91" y="186" width="6.61" height="10" fill="#0040ff"/>
<rect x="461.91" y="196" width="6.61" height="15" fill="#0030ff"/>
<rect x="461.91" y="211" width="6.61" height="25" fill="#0020ff"/>
<rect x="461.91" y="236" width="6.61" height="10" fill="#0010ff"/>
<rect x="461.91" y="246" width="6.61" height="25" fill="#0000ff"/>
<rect x="461.91" y="271" width="6.61" height="25" fill="#0000ef"/>
<rect x="461.91" y="296" width="6.61" height="45" fill="#0000df"/>
<rect x="461.91" y="341" width="6.61" height="35" fill="#0000cf"/>
<rect x="461.91" y="376" width="6.61" height="35" fill="#0000bf"/>
<rect x="461.91" y="411" width="6.61" height="35" fill="#0000af"/>
<rect x="461.91" y="446" width="6.61" height="20" fill="#00009f"/>
<rect x="461.91" y="466" width="6.61" height="15" fill="#00008f"/>
<rect x="468.52" y="66" width="6.61" height="10" fill="#ff8f00"/>
<rect x="468.52" y="76" width="6.61" height="5" fill="#ffaf00"/>
<rect x="468.52" y="81" width="6.61" height="5" fill="#efff10"/>
<rect x="468.52" y="86" width="6.61" height="5" fill="#70ff8f"/>
<rect x="468.52" y="91" width="6.61" height="5" fill="#30ffcf"/>
<rect x="468.52" y="96" width="6.61" height="10" fill="#00efff"/>
<rect x="468.52" y="106" width="6.61" height="10" fill="#00cfff"/>
<rect x="468.52" y="116" width="6.61" height="5" fill="#00afff"/>
<rect x="468.52" y="121" width="6.61" height="10" fill="#00bfff"/>
<rect x="468.52" y="131" width="6.61" height="5" fill="#00afff"/>
<rect x="468.52" y="136" width="6.61" height="15" fill="#009fff"/>
<rect x="468.52" y="151" width="6.61" height="5" fill="#008fff"/>
<rect x="468.52" y="156" width="6.61" height="10" fill="#0080ff"/>
<rect x="468.52" y="166" width="6.61" height="5" fill="#0070ff"/>
<rect x="468.52" y="171" width="6.61" height="5" fill="#0060ff"/>
<rect x="468.52" y="176" width="6.61" height="10" fill="#0050ff"/>
<rect x="468.52" y="186" width="6.61" height="10" fill="#0040ff"/>
<rect x="468.52" y="196" width="6.61" height="10" fill="#0030ff"/>
<rect x="468.52" y="206" width="6.61" height="10" fill="#0020ff"/>
<rect x="468.52" y="216" width="6.61" height="25" fill="#0010ff"/>
<rect x="468.52" y="241" width="6.61" height="15" fill="#0000ff"/>
<rect x="468.52" y="256" width="6.61" height="40" fill="#0000ef"/>
<rect x="468.52" y="296" width="6.61" height="55" fill="#0000df"/>
<rect x="468.52" y="351" width="6.61" height="20" fill="#0000cf"/>
<rect x="468.52" y="371" width="6.61" height="45" fill="#0000bf"/>
<rect x="468.52" y="416" width="6.61" height="25" fill="#0000af"/>
<rect x="468.52" y="441" width="6.61" height="40" fill="#00009f"/>
<rect x="475.13" y="66" width="6.61" height="10" fill="#ff7000"/>
<rect x="475.13" y="76" width="6.61" height="5" fill="#ffaf00"/>
<rect x="475.13" y="81" width="6.61" height="5" fill="#efff10"/>
<rect x="475.13" y="86" width="6.61" height="5" fill="#70ff8f"/>
<rect x="475.13" y="91" width="6.61" height="5" fill="#30ffcf"/>
<rect x="475.13" y="96" width="6.61" height="10" fill="#00efff"/>
<rect x="475.13" y="106" width="6.61" height="10" fill="#00cfff"/>
<rect x="475.13" y="116" width="6.61" height="5" fill="#00afff"/>
<rect x="475.13" y="121" width="6.61" height="5" fill="#00bfff"/>
<rect x="475.13" y="126" width="6.61" height="10" fill="#00afff"/>
<rect x="475.13" y="136" width="6.61" height="5" fill="#009fff"/>
<rect x="475.13" y="141" width="6.61" height="10" fill="#008fff"/>
<rect x="475.13" y="151" width="6.61" height="10" fill="#0080ff"/>
<rect x="475.13" y="161" width="6.61" height="15" fill="#0070ff"/>
<rect x="475.13" y="176" width="6.61" height="10" fill="#0060ff"/>
<rect x="475.13" y="186" width="6.61" height="5" fill="#0050ff"/>
<rect x="475.13" y="191" width="6.61" height="10" fill="#0040ff"/>
<rect x="475.13" y="201" width="6.61" height="5" fill="#0030ff"/>
<rect x="475.13" y="206" width="6.61" height="10" fill="#0020ff"/>
<rect x="475.13" y="216" width="6.61" height="15" fill="#0010ff"/>
<rect x="475.13" y="231" width="6.61" height="15" fill="#0000ff"/>
<rect x="475.13" y="246" width="6.61" height="50" fill="#0000ef"/>
<rect x="475.13" y="296" width="6.61" height="30" fill="#0000df"/>
<rect x="475.13" y="326" width="6.61" height="5" fill="#0000cf"/>
<rect x="475.13" y="331" width="6.61" height="10" fill="#0000df"/>
<rect x="475.13" y="341" width="6.61" height="20" fill="#0000cf"/>
<rect x="475.13" y="361" width="6.61" height="45" fill="#0000bf"/>
<rect x="475.13" y="406" width="6.61" height="40" fill="#0000af"/>
<rect x="475.13" y="446" width="6.61" height="20" fill="#00009f"/>
<rect x="481.74" y="66" width="6.61" height="10" fill="#ff5000"/>
<rect x="481.74" y="76" width="6.61" height="5" fill="#ff8f00"/>
<rect x="481.74" y="81" width="6.61" height="5" fill="#efff10"/>
<rect x="481.74" y="86" width="6.61" height="5" fill="#70ff8f"/>
<rect x="481.74" y="91" width="6.61" height="5" fill="#30ffcf"/>
<rect x="481.74" y="96" width="6.61" height="10" fill="#00efff"/>
<rect x="481.74" y="106" width="6.61" height="10" fill="#00cfff"/>
<rect x="481.74" y="116" width="6.61" height="20" fill="#00afff"/>
<rect x="481.74" y="136" width="6.61" height="15" fill="#009fff"/>
<rect x="481.74" y="151" width="6.61" height="5" fill="#008fff"/>
<rect x="481.74" y="156" width="6.61" height="5" fill="#0080ff"/>
<rect x="481.74" y="161" width="6.61" height="5" fill="#0070ff"/>
<rect x="481.74" y="166" width="6.61" height="10" fill="#0060ff"/>
<rect x="481.74" y="176" width="6.61" height="15" fill="#0050ff"/>
<rect x="481.74" y="191" width="6.61" height="5" fill="#0040ff"/>
<rect x="481.74" y="196" width="6.61" height="15" fill="#0030ff"/>
<rect x="481.74" y="211" width="6.61" height="5" fill="#0020ff"/>
<rect x="481.74" y="216" width="6.61" height="15" fill="#0010ff"/>
<rect x="481.74" y="231" width="6.61" height="25" fill="#0000ff"/>
<rect x="481.74" y="256" width="6.61" height="10" fill="#0000ef"/>
<rect x="481.74" y="266" width="6.61" height="5" fill="#0000ff"/>
<rect x="481.74" y="271" width="6.61" height="30" fill="#0000ef"/>
<rect x="481.74" y="301" width="6.61" height="25" fill="#0000df"/>
<rect x="481.74" y="326" width="6.61" height="5" fill="#0000cf"/>
<rect x="481.74" y="331" width="6.61" height="10" fill="#0000df"/>
<rect x="481.74" y="341" width="6.61" height="35" fill="#0000cf"/>
<rect x="481.74" y="376" width="6.61" height="35" fill="#0000bf"/>
<rect x="481.74" y="411" width="6.61" height="20" fill="#0000af"/>
<rect x="481.74" y="431" width="6.61" height="35" fill="#00009f"/>
<rect x="488.35" y="66" width="6.61" height="10" fill="#ff3000"/>
<rect x="488.35" y="76" width="6.61" height="5" fill="#ff8f00"/>
<rect x="488.35" y="81" width="6.61" height="5" fill="#efff10"/>
<rect x="488.35" y="86" width="6.61" height="5" fill="#70ff8f"/>
<rect x="488.35" y="91" width="6.61" height="5" fill="#30ffcf"/>
<rect x="488.35" y="96" width="6.61" height="10" fill="#00efff"/>
<rect x="488.35" y="106" width="6.61" height="10" fill="#00cfff"/>
<rect x="488.35" y="116" width="6.61" height="5" fill="#00afff"/>
<rect x="488.35" y="121" width="6.61" height="5" fill="#00bfff"/>
<rect x="488.35" y="126" width="6.61" height="10" fill="#00afff"/>
<rect x="488.35" y="136" width="6.61" height="10" fill="#009fff"/>
<rect x="488.35" y="146" width="6.61" height="10" fill="#008fff"/>
<rect x="488.35" y="156" width="6.61" height="5" fill="#0080ff"/>
<rect x="488.35" y="161" width="6.61" height="10" fill="#0070ff"/>
<rect x="488.35" y="171" width="6.61" height="5" fill="#0060ff"/>
<rect x="488.35" y="176" width="6.61" height="10" fill="#0050ff"/>
<rect x="488.35" y="186" width="6.61" height="5" fill="#0040ff"/>
<rect x="488.35" y="191" width="6.61" height="25" fill="#0030ff"/>
<rect x="488.35" y="216" width="6.61" height="15" fill="#0020ff"/>
<rect x="488.35" y="231" width="6.61" height="5" fill="#0010ff"/>
<rect x="488.35" y="236" width="6.61" height="20" fill="#0000ff"/>
<rect x="488.35" y="256" width="6.61" height="35" fill="#0000ef"/>
<rect x="488.35" y="291" width="6.61" height="45" fill="#0000df"/>
<rect x="488.35" y="336" width="6.61" height="5" fill="#0000cf"/>
<rect x="488.35" y="341" width="6.61" height="5" fill="#0000df"/>
<rect x="488.35" y="346" width="6.61" height="45" fill="#0000cf"/>
<rect x="488.35" y="391" width="6.61" height="30" fill="#0000bf"/>
<rect x="488.35" y="421" width="6.61" height="25" fill="#0000af"/>
<rect x="488.35" y="446" width="6.61" height="20" fill="#00009f"/>
<rect x="494.96" y="66" width="6.61" height="10" fill="#ff1000"/>
<rect x="494.96" y="76" width="6.61" height="5" fill="#ff7000"/>
<rect x="494.96" y="81" width="6.61" height="5" fill="#ffcf00"/>
<rect x="494.96" y="86" width="6.61" height="5" fill="#70ff8f"/>
<rect x="494.96" y="91" width="6.61" height="5" fill="#30ffcf"/>
<rect x="494.96" y="96" width="6.61" height="10" fill="#00efff"/>
<rect x="494.96" y="106" width="6.61" height="10" fill="#00cfff"/>
<rect x="494.96" y="116" width="6.61" height="5" fill="#00afff"/>
<rect x="494.96" y="121" width="6.61" height="5" fill="#00bfff"/>
<rect x="494.96" y="126" width="6.61" height="5" fill="#00afff"/>
<rect x="494.96" y="131" width="6.61" height="10" fill="#009fff"/>
<rect x="494.96" y="141" width="6.61" height="15" fill="#008fff"/>
<rect x="494.96" y="156" width="6.61" height="5" fill="#0080ff"/>
<rect x="494.96" y="161" width="6.61" height="10" fill="#0070ff"/>
<rect x="494.96" y="171" width="6.61" height="5" fill="#0060ff"/>
<rect x="494.96" y="176" width="6.61" height="5" fill="#0050ff"/>
<rect x="494.96" y="181" width="6.61" height="15" fill="#0040ff"/>
<rect x="494.96" y="196" width="6.61" height="15" fill="#0030ff"/>
<rect x="494.96" y="211" width="6.61" height="15" fill="#0020ff"/>
<rect x="494.96" y="226" width="6.61" height="10" fill="#0010ff"/>
<rect x="494.96" y="236" width="6.61" height="10" fill="#0000ff"/>
<rect x="494.96" y="246" width="6.61" height="25" fill="#0000ef"/>
<rect x="494.96" y="271" width="6.61" height="10" fill="#0000ff"/>
<rect x="494.96" y="281" width="6.61" height="20" fill="#0000ef"/>
<rect x="494.96" y="301" width="6.61" height="45" fill="#0000df"/>
<rect x="494.96" y="346" width="6.61" height="25" fill="#0000cf"/>
<rect x="494.96" y="371" width="6.61" height="15" fill="#0000bf"/>
<rect x="494.96" y="386" width="6.61" height="5" fill="#0000af"/>
<rect x="494.96" y="391" width="6.61" height="10" fill="#0000bf"/>
<rect x="494.96" y="401" width="6.61" height="35" fill="#0000af"/>
<rect x="494.96" y="436" width="6.61" height="30" fill="#00009f"/>
<rect x="501.57" y="66" width="6.61" height="5" fill="#cf0000"/>
<rect x="501.57" y="71" width="6.61" height="5" fill="#ef0000"/>
<rect x="501.57" y="76" width="6.61" height="5" fill="#ff8f00"/>
<rect x="501.57" y="81" width="6.61" height="5" fill="#cfff30"/>
<rect x="501.57" y="86" width="6.61" height="5" fill="#50ffaf"/>
<rect x="501.57" y="91" width="6.61" height="5" fill="#30ffcf"/>
<rect x="501.57" y="96" width="6.61" height="10" fill="#00efff"/>
<rect x="501.57" y="106" width="6.61" height="10" fill="#00cfff"/>
<rect x="501.57" y="116" width="6.61" height="5" fill="#00afff"/>
<rect x="501.57" y="121" width="6.61" height="5" fill="#00cfff"/>
<rect x="501.57" y="126" width="6.61" height="10" fill="#00bfff"/>
<rect x="501.57" y="136" width="6.61" height="5" fill="#00afff"/>
<rect x="501.57" y="141" width="6.61" height="10" fill="#009fff"/>
<rect x="501.57" y="151" width="6.61" height="5" fill="#008fff"/>
<rect x="501.57" y="156" width="6.61" height="5" fill="#0080ff"/>
<rect x="501.57" y="161" width="6.61" height="5" fill="#0070ff"/>
<rect x="501.57" y="166" width="6.61" height="10" fill="#0060ff"/>
<rect x="501.57" y="176" width="6.61" height="10" fill="#0050ff"/>
<rect x="501.57" y="186" width="6.61" height="20" fill="#0040ff"/>
<rect x="501.57" y="206" width="6.61" height="10" fill="#0030ff"/>
<rect x="501.57" y="216" width="6.61" height="10" fill="#0020ff"/>
<rect x="501.57" y="226" width="6.61" height="5" fill="#0010ff"/>
<rect x="501.57" y="231" width="6.61" height="10" fill="#0000ff"/>
<rect x="501.57" y="241" width="6.61" height="55" fill="#0000ef"/>
<rect x="501.57" y="296" width="6.61" height="55" fill="#0000df"/>
<rect x="501.57" y="351" width="6.61" height="20" fill="#0000cf"/>
<rect x="501.57" y="371" width="6.61" height="45" fill="#0000bf"/>
<rect x="501.57" y="416" width="6.61" height="25" fill="#0000af"/>
<rect x="501.57" y="441" width="6.61" height="15" fill="#00009f"/>
<rect x="501.57" y="456" width="6.61" height="10" fill="#00008f"/>
<rect x="508.18" y="66" width="6.61" height="10" fill="#cf0000"/>
<rect x="508.18" y="76" width="6.61" height="5" fill="#ff8f00"/>
<rect x="508.18" y="81" width="6.61" height="5" fill="#cfff30"/>
<rect x="508.18" y="86" width="6.61" height="5" fill="#50ffaf"/>
<rect x="508.18" y="91" width="6.61" height="5" fill="#30ffcf"/>
<rect x="508.18" y="96" width="6.61" height="10" fill="#00efff"/>
<rect x="508.18" y="106" width="6.61" height="10" fill="#00cfff"/>
<rect x="508.18" y="116" width="6.61" height="5" fill="#00afff"/>
<rect x="508.18" y="121" width="6.61" height="10" fill="#00bfff"/>
<rect x="508.18" y="131" width="6.61" height="10" fill="#00afff"/>
<rect x="508.18" y="141" width="6.61" height="10" fill="#009fff"/>
<rect x="508.18" y="151" width="6.61" height="5" fill="#008fff"/>
<rect x="508.18" y="156" width="6.61" height="5" fill="#0080ff"/>
<rect x="508.18" y="161" width="6.61" height="5" fill="#0070ff"/>
<rect x="508.18" y="166" width="6.61" height="10" fill="#0060ff"/>
<rect x="508.18" y="176" width="6.61" height="15" fill="#0050ff"/>
<rect x="508.18" y="191" width="6.61" height="5" fill="#0040ff"/>
<rect x="508.18" y="196" width="6.61" height="10" fill="#0030ff"/>
<rect x="508.18" y="206" width="6.61" height="20" fill="#0020ff"/>
<rect x="508.18" y="226" width="6.61" height="10" fill="#0010ff"/>
<rect x="508.18" y="236" width="6.61" height="15" fill="#0000ff"/>
<rect x="508.18" y="251" width="6.61" height="40" fill="#0000ef"/>
<rect x="508.18" y="291" width="6.61" height="40" fill="#0000df"/>
<rect x="508.18" y="331" width="6.61" height="10" fill="#0000cf"/>
<rect x="508.18" y="341" width="6.61" height="10" fill="#0000df"/>
<rect x="508.18" y="351" width="6.61" height="25" fill="#0000cf"/>
<rect x="508.18" y="376" width="6.61" height="30" fill="#0000bf"/>
<rect x="508.18" y="406" width="6.61" height="40" fill="#0000af"/>
<rect x="508.18" y="446" width="6.61" height="20" fill="#00009f"/>
<rect x="514.79" y="66" width="6.61" height="5" fill="#af0000"/>
<rect x="514.79" y="71" width="6.61" height="5" fill="#cf0000"/>
<rect x="514.79" y="76" width="6.61" height="5" fill="#ffcf00"/>
<rect x="514.79" y="81" width="6.61" height="5" fill="#cfff30"/>
<rect x="514.79" y="86" width="6.61" height="5" fill="#50ffaf"/>
<rect x="514.79" y="91" width="6.61" height="5" fill="#30ffcf"/>
<rect x="514.79" y="96" width="6.61" height="10" fill="#00efff"/>
<rect x="514.79" y="106" width="6.61" height="10" fill="#00cfff"/>
<rect x="514.79" y="116" width="6.61" height="5" fill="#00afff"/>
<rect x="514.79" y="121" width="6.61" height="10" fill="#00bfff"/>
<rect x="514.79" y="131" width="6.61" height="15" fill="#00afff"/>
<rect x="514.79" y="146" width="6.61" height="5" fill="#009fff"/>
<rect x="514.79" y="151" width="6.61" height="5" fill="#008fff"/>
<rect x="514.79" y="156" width="6.61" height="10" fill="#0080ff"/>
<rect x="514.79" y="166" width="6.61" height="5" fill="#0070ff"/>
<rect x="514.79" y="171" width="6.61" height="5" fill="#0060ff"/>
<rect x="514.79" y="176" width="6.61" height="5" fill="#0050ff"/>
<rect x="514.79" y="181" width="6.61" height="15" fill="#0040ff"/>
<rect x="514.79" y="196" width="6.61" height="10" fill="#0030ff"/>
<rect x="514.79" y="206" width="6.61" height="15" fill="#0020ff"/>
<rect x="514.79" y="221" width="6.61" height="15" fill="#0010ff"/>
<rect x="514.79" y="236" width="6.61" height="25" fill="#0000ff"/>
<rect x="514.79" y="261" width="6.61" height="35" fill="#0000ef"/>
<rect x="514.79" y="296" width="6.61" height="30" fill="#0000df"/>
<rect x="514.79" y="326" width="6.61" height="5" fill="#0000cf"/>
<rect x="514.79" y="331" width="6.61" height="10" fill="#0000df"/>
<rect x="514.79" y="341" width="6.61" height="5" fill="#0000cf"/>
<rect x="514.79" y="346" width="6.61" height="5" fill="#0000df"/>
<rect x="514.79" y="351" width="6.61" height="25" fill="#0000cf"/>
<rect x="514.79" y="376" width="6.61" height="45" fill="#0000bf"/>
<rect x="514.79" y="421" width="6.61" height="20" fill="#0000af"/>
<rect x="514.79" y="441" width="6.61" height="25" fill="#00009f"/>
<rect x="521.40" y="66" width="6.61" height="5" fill="#af0000"/>
<rect x="521.40" y="71" width="6.61" height="5" fill="#cf0000"/>
<rect x="521.40" y="76" width="6.61" height="5" fill="#ff1000"/>
<rect x="521.40" y="81" width="6.61" height="5" fill="#ffef00"/>
<rect x="521.40" y="86" width="6.61" height="5" fill="#70ff8f"/>
<rect x="521.40" y="91" width="6.61" height="5" fill="#30ffcf"/>
<rect x="521.40" y="96" width="6.61" height="10" fill="#00efff"/>
<rect x="521.40" y="106" width="6.61" height="10" fill="#00cfff"/>
<rect x="521.40" y="116" width="6.61" height="5" fill="#00afff"/>
<rect x="521.40" y="121" width="6.61" height="5" fill="#00bfff"/>
<rect x="521.40" y="126" width="6.61" height="10" fill="#00afff"/>
<rect x="521.40" y="136" width="6.61" height="15" fill="#009fff"/>
<rect x="521.40" y="151" width="6.61" height="10" fill="#008fff"/>
<rect x="521.40" y="161" width="6.61" height="5" fill="#0080ff"/>
<rect x="521.40" y="166" width="6.61" height="10" fill="#0060ff"/>
<rect x="521.40" y="176" width="6.61" height="10" fill="#0050ff"/>
<rect x="521.40" y="186" width="6.61" height="20" fill="#0040ff"/>
<rect x="521.40" y="206" width="6.61" height="5" fill="#0030ff"/>
<rect x="521.40" y="211" width="6.61" height="10" fill="#0020ff"/>
<rect x="521.40" y="221" width="6.61" height="5" fill="#0010ff"/>
<rect x="521.40" y="226" width="6.61" height="10" fill="#0000ff"/>
<rect x="521.40" y="236" width="6.61" height="5" fill="#0010ff"/>
<rect x="521.40" y="241" width="6.61" height="25" fill="#0000ff"/>
<rect x="521.40" y="266" width="6.61" height="25" fill="#0000ef"/>
<rect x="521.40" y="291" width="6.61" height="45" fill="#0000df"/>
<rect x="521.40" y="336" width="6.61" height="5" fill="#0000cf"/>
<rect x="521.40" y="341" width="6.61" height="5" fill="#0000df"/>
<rect x="521.40" y="346" width="6.61" height="30" fill="#0000cf"/>
<rect x="521.40" y="376" width="6.61" height="25" fill="#0000bf"/>
<rect x="521.40" y="401" width="6.61" height="30" fill="#0000af"/>
<rect x="521.40" y="431" width="6.61" height="35" fill="#00009f"/>
<rect x="528.01" y="66" width="6.61" height="10" fill="#af0000"/>
<rect x="528.01" y="76" width="6.61" height="5" fill="#ff7000"/>
<rect x="528.01" y="81" width="6.61" height="5" fill="#cfff30"/>
<rect x="528.01" y="86" width="6.61" height="5" fill="#50ffaf"/>
<rect x="528.01" y="91" width="6.61" height="5" fill="#10ffef"/>
<rect x="528.01" y="96" width="6.61" height="10" fill="#00efff"/>
<rect x="528.01" y="106" width="6.61" height="10" fill="#00cfff"/>
<rect x="528.01" y="116" width="6.61" height="5" fill="#00afff"/>
<rect x="528.01" y="121" width="6.61" height="10" fill="#00bfff"/>
<rect x="528.01" y="131" width="6.61" height="10" fill="#00afff"/>
<rect x="528.01" y="141" width="6.61" height="15" fill="#009fff"/>
<rect x="528.01" y="156" width="6.61" height="5" fill="#008fff"/>
<rect x="528.01" y="161" width="6.61" height="5" fill="#0070ff"/>
<rect x="528.01" y="166" width="6.61" height="10" fill="#0060ff"/>
<rect x="528.01" y="176" width="6.61" height="10" fill="#0050ff"/>
<rect x="528.01" y="186" width="6.61" height="15" fill="#0040ff"/>
<rect x="528.01" y="201" width="6.61" height="5" fill="#0030ff"/>
<rect x="528.01" y="206" width="6.61" height="5" fill="#0020ff"/>
<rect x="528.01" y="211" width="6.61" height="5" fill="#0030ff"/>
<rect x="528.01" y="216" width="6.61" height="10" fill="#0020ff"/>
<rect x="528.01" y="226" width="6.61" height="15" fill="#0010ff"/>
<rect x="528.01" y="241" width="6.61" height="35" fill="#0000ff"/>
<rect x="528.01" y="276" width="6.61" height="15" fill="#0000ef"/>
<rect x="528.01" y="291" width="6.61" height="20" fill="#0000df"/>
<rect x="528.01" y="311" width="6.61" height="15" fill="#0000cf"/>
<rect x="528.01" y="326" width="6.61" height="5" fill="#0000df"/>
<rect x="528.01" y="331" width="6.61" height="35" fill="#0000cf"/>
<rect x="528.01" y="366" width="6.61" height="45" fill="#0000bf"/>
<rect x="528.01" y="411" width="6.61" height="35" fill="#0000af"/>
<rect x="528.01" y="446" width="6.61" height="20" fill="#00009f"/>
<rect x="534.62" y="66" width="3.18" height="5" fill="#8f0000"/>
<rect x="534.62" y="71" width="3.18" height="5" fill="#af0000"/>
<rect x="534.62" y="76" width="3.18" height="5" fill="#ff5000"/>
<rect x="534.62" y="81" width="3.18" height="5" fill="#cfff30"/>
<rect x="534.62" y="86" width="3.18" height="5" fill="#50ffaf"/>
<rect x="534.62" y="91" width="3.18" height="5" fill="#10ffef"/>
<rect x="534.62" y="96" width="3.18" height="10" fill="#00efff"/>
<rect x="534.62" y="106" width="3.18" height="10" fill="#00cfff"/>
<rect x="534.62" y="116" width="3.18" height="5" fill="#00afff"/>
<rect x="534.62" y="121" width="3.18" height="10" fill="#00bfff"/>
<rect x="534.62" y="131" width="3.18" height="20" fill="#00afff"/>
<rect x="534.62" y="151" width="3.18" height="5" fill="#009fff"/>
<rect x="534.62" y="156" width="3.18" height="5" fill="#008fff"/>
<rect x="534.62" y="161" width="3.18" height="5" fill="#0080ff"/>
<rect x="534.62" y="166" width="3.18" height="5" fill="#0070ff"/>
<rect x="534.62" y="171" width="3.18" height="5" fill="#0060ff"/>
<rect x="534.62" y="176" width="3.18" height="10" fill="#0050ff"/>
<rect x="534.62" y="186" width="3.18" height="5" fill="#0040ff"/>
<rect x="534.62" y="191" width="3.18" height="25" fill="#0030ff"/>
<rect x="534.62" y="216" width="3.18" height="10" fill="#0020ff"/>
<rect x="534.62" y="226" width="3.18" height="5" fill="#0010ff"/>
<rect x="534.62" y="231" width="3.18" height="35" fill="#0000ff"/>
<rect x="534.62" y="266" width="3.18" height="20" fill="#0000ef"/>
<rect x="534.62" y="286" width="3.18" height="70" fill="#0000df"/>
<rect x="534.62" y="356" width="3.18" height="25" fill="#0000cf"/>
<rect x="534.62" y="381" width="3.18" height="25" fill="#0000bf"/>
<rect x="534.62" y="406" width="3.18" height="15" fill="#0000af"/>
<rect x="534.62" y="421" width="3.18" height="45" fill="#00009f"/>
</g>
<g clip-path="url(#plotclip)"><g fill="none" stroke="#000" stroke-width="1" stroke-linejoin="round" shape-rendering="crispEdges"><path d="M58.7 88.2L65.3 88.7L71.9 87.3L78.5 86.6L85.1 87.8L91.8 86.3L98.2 91.0L98.4 91.1L105.0 91.4L105.3 91.0L111.4 86.0L111.6 85.9L111.7 86.0L114.4 91.0L115.0 96.0L115.0 101.0L118.2 104.4L121.4 101.0L121.4 96.0L122.3 91.0L122.7 86.0L124.8 84.0L127.4 86.0L128.2 91.0L129.5 96.0L131.4 98.4L136.6 101.0L138.0 102.0L144.1 106.0L144.6 106.3L145.4 106.0L147.5 101.0L151.2 98.1L157.9 97.8L163.9 101.0L164.5 101.2L171.1 101.3L174.5 101.0L176.6 96.0L176.6 91.0L176.6 86.0L176.6 81.0L176.6 76.0L176.6 71.0L176.6 66.0"/><path d="M399.7 66.0L399.7 71.0L402.4 73.1L406.3 76.0L409.0 78.1L415.6 78.1L422.2 78.1L426.1 81.0L428.9 82.4L435.5 83.1L439.3 86.0L442.1 87.4L448.7 88.1L454.2 86.0L455.3 85.8L461.9 85.2L465.8 86.0L468.5 88.1L475.1 88.1L481.7 88.1L488.4 88.1L495.0 88.1L500.5 86.0L501.6 85.8L508.2 85.8L514.8 85.8L515.9 86.0L521.4 88.1L526.9 86.0L528.0 85.8L534.6 85.8L537.8 85.8"/><path d="M58.7 78.2L65.3 78.2L71.9 77.7L78.5 78.8L85.1 77.9L91.8 80.5L91.9 81.0L97.0 86.0L98.4 87.0L105.0 86.6L105.8 86.0L111.6 81.6L117.4 86.0L117.7 91.0L117.8 96.0L117.8 101.0L118.2 101.4L118.6 101.0L118.6 96.0L118.7 91.0L118.7 86.0L121.0 81.0L121.0 76.0L121.0 71.0L123.8 66.0"/><path d="M443.1 66.0L443.1 71.0L448.7 75.2L455.3 75.2L461.9 75.6L462.4 76.0L468.5 79.1L475.1 79.1L481.7 79.6L488.4 79.6L492.2 81.0L495.0 81.7L496.8 81.0L501.6 78.8L508.2 78.8L514.8 77.4L521.4 80.9L528.0 79.2L534.6 79.5L537.8 79.5"/></g><g fill="none" stroke="#000" stroke-width="1" stroke-linejoin="round" shape-rendering="crispEdges"><path d="M58.7 108.5L64.2 109.2L68.8 109.2L72.6 105.4L78.0 104.6L82.6 103.8L85.7 101.5L89.5 101.5L94.9 103.8L96.5 106.9L97.2 113.1L95.7 120.8L95.7 127.7L97.2 132.3L99.5 134.6L107.2 134.6L110.3 136.9L113.4 140.8L116.5 145.4L118.8 149.2L121.1 150.0L124.2 146.2L127.2 145.4L128.8 148.5L130.3 153.1L131.8 155.4L139.5 155.4L142.6 151.5L145.7 150.0L148.8 146.9L151.8 144.6L156.2 144.6L161.5 143.1L163.8 137.7L165.4 133.1L170.0 130.8L165.4 127.7L163.8 123.1L161.5 119.2L156.9 113.8L153.1 112.3L152.3 110.8L157.7 108.5L160.0 106.9L161.5 108.5L163.8 112.3L175.4 113.8L182.3 115.4L201.5 115.8L202.3 120.0L200.8 124.6L196.2 126.9L192.5 128.5"/><path d="M187.7 133.8L190.8 137.7L194.6 138.5L200.8 136.2L206.9 136.2L209.2 133.8L212.3 131.5L214.6 133.1L217.7 139.2L220.0 138.5L222.3 131.5L224.6 122.3L226.9 121.5L228.5 128.5L230.0 139.2L231.5 144.6L235.4 148.5L238.5 150.8L241.5 147.7L244.3 146.2L248.2 144.6L250.5 140.0L254.3 138.5L256.6 134.6L256.6 126.6L255.8 115.8L255.5 108.2L255.8 100.5L257.4 95.8L260.5 95.8L262.0 100.5L262.8 114.3L264.3 118.2L266.6 117.4L266.6 108.2L267.4 92.8L268.2 85.1L270.5 82.0L275.1 81.2L276.2 77.4L276.6 66.0"/><path d="M307.8 66.0L307.8 95.8L309.7 108.2L313.5 108.2L316.6 102.0L319.7 102.8L320.5 108.2L317.4 112.0L314.3 118.2L309.7 119.7L308.2 125.1L308.2 130.0L307.8 139.2L309.7 153.1L312.8 153.1L314.3 143.8L315.5 135.4L318.9 134.6L320.8 136.9L322.8 145.4L325.8 146.9L328.2 151.5L329.7 157.7L332.8 157.7L336.6 154.6L339.4 153.5L342.5 145.0L345.5 144.2L347.8 147.3L350.2 155.8L353.2 155.8L354.5 150.0"/><path d="M359.5 149.0L361.7 154.2L365.5 155.0L368.6 150.4L372.5 148.8L375.5 145.0L379.4 143.9L383.2 141.2L386.3 142.7L390.2 147.3L392.5 147.3L395.5 144.2L398.6 142.7L402.5 138.8L405.5 139.6L409.4 148.1L411.7 147.3L414.8 137.3L417.8 136.8L420.2 144.2L422.5 149.6L425.5 148.8L428.6 145.1L432.1 144.2L437.4 145.1L440.9 141.2L444.4 140.7L446.2 143.3L448.8 153.9L451.4 154.2L454.9 147.7L457.6 147.2L461.1 148.9L464.6 148.9L469.0 146.5L473.4 146.0L477.8 144.7L481.3 139.8L483.9 139.5L486.5 141.6L488.3 146.8L490.9 147.2L495.3 144.2L498.8 143.7L502.3 140.7L505.8 141.2L510.2 142.5L514.6 145.1L526.0 145.1L529.5 143.0L533.0 142.5L535.6 140.2L537.8 140.2"/><path d="M186.2 120.8L180.0 121.5L174.6 125.4L174.6 130.0L176.2 137.7L178.5 143.1L181.5 142.3L183.0 136.2L185.0 131.5"/><path d="M344.5 109.4L352.5 108.1L357.1 106.1L359.4 107.3L362.5 114.2L372.5 114.7L369.4 116.5L366.3 122.7L361.7 123.5L357.1 125.0L353.2 130.4L350.2 130.4L347.8 126.5L344.8 122.7L340.9 121.2L336.3 118.1L335.5 115.0L337.5 112.7"/><path d="M104.2 100.2L108.8 100.2L111.5 97.5L114.2 97.5L115.0 100.0"/><path d="M114.6 106.0L114.2 108.7L104.2 108.7L104.2 100.2"/><path d="M118.6 110.6L121.8 110.6L122.3 111.2L122.3 117.4L121.8 117.9L118.6 117.9L118.1 117.4L118.1 111.2L118.6 110.6"/><path d="M124.6 97.5L128.1 97.5L129.2 102.2L129.6 109.1L124.6 109.1L124.6 97.5"/><path d="M134.7 106.9L136.8 108.6L139.5 110.4L141.6 112.1L143.7 114.2L144.4 115.5L146.5 115.9L148.9 115.9L149.5 117.2L148.2 118.3L145.8 118.3L142.3 118.0L138.9 116.9L135.4 115.2L131.9 114.2L130.5 112.8L127.8 110.4L125.0 109.7"/><path d="M58.7 294.5L68.4 293.4L71.8 285.8L75.3 285.3L78.8 273.8L82.2 274.2L84.5 275.4L88.0 276.1L91.5 307.2L94.9 307.2L98.4 299.6L101.8 299.2L105.3 295.5L108.8 296.2L113.4 299.6L118.0 307.7L121.5 307.7L124.9 292.7L128.4 292.7L131.8 308.4L135.3 307.7L138.8 304.7L144.5 299.6L151.5 296.2L159.5 297.3L164.2 289.2L168.8 288.1L173.4 286.2L178.0 299.6L181.0 299.6L184.5 280.7L187.2 280.7L194.2 285.8L197.6 303.1L201.1 302.4L207.4 301.9L211.1 289.4L213.8 289.4L218.5 291.4L222.2 289.9L226.8 289.4L232.3 291.4L237.8 286.2L240.6 287.2L243.9 301.0L247.1 301.0L250.8 294.5L260.0 294.5L263.7 301.0L266.5 301.0L269.8 289.0L272.9 288.4L277.5 292.3L281.2 291.8L284.9 288.4L286.8 289.0L290.5 296.4L293.2 296.4L296.0 292.7L300.6 292.7L304.3 301.9L308.0 302.5L310.8 308.9L314.5 308.9L318.1 308.4L320.2 308.0L323.1 310.6L327.5 309.9L333.1 306.9L336.8 318.7L339.4 318.7L342.3 291.4L346.0 290.3L349.7 306.2L352.7 306.9L356.0 292.9L358.9 294.0L362.6 306.9L366.3 306.9L370.0 301.4L380.4 300.6L384.8 299.3L386.3 300.5L386.3 314.0L388.0 318.0L388.0 327.8L389.5 329.6L392.5 329.6L393.1 326.6L394.3 312.7L395.2 306.3"/><path d="M395.2 306.3L405.5 306.3L406.1 309.7L406.7 321.1L407.6 321.7L408.8 336.5L412.5 334.6L415.4 314.3L419.1 314.3L421.7 334.6L425.4 335.7L429.1 319.9L431.7 319.9L435.4 347.5L438.3 348.3L441.3 335.7L445.0 335.7L448.7 356.0L452.4 356.0L456.0 318.0L462.3 314.3L466.0 314.3L468.6 325.4L475.3 329.1L478.9 327.2L483.4 324.7L487.1 306.2L490.8 306.2L494.5 323.5L499.3 321.7L501.1 317.3L504.1 317.3L507.8 329.8L511.4 329.1L514.8 321.0L524.0 321.0L527.7 304.3L537.8 304.3"/><path d="M487.3 66.0L488.0 68.0L491.2 69.0L492.2 71.1L493.5 73.8L494.5 75.9L497.7 76.2L500.0 74.8L501.2 73.4L505.0 73.4L510.4 72.6L513.5 72.3"/><path d="M525.0 74.0L530.3 75.1L534.6 75.6L537.8 75.6"/></g></g>
<g shape-rendering="crispEdges">
<rect x="565.5" y="474.438" width="42.0" height="6.582" fill="#00008f"/>
<rect x="565.5" y="467.875" width="42.0" height="6.582" fill="#00009f"/>
<rect x="565.5" y="461.312" width="42.0" height="6.582" fill="#0000af"/>
<rect x="565.5" y="454.750" width="42.0" height="6.582" fill="#0000bf"/>
<rect x="565.5" y="448.188" width="42.0" height="6.582" fill="#0000cf"/>
<rect x="565.5" y="441.625" width="42.0" height="6.582" fill="#0000df"/>
<rect x="565.5" y="435.062" width="42.0" height="6.582" fill="#0000ef"/>
<rect x="565.5" y="428.500" width="42.0" height="6.582" fill="#0000ff"/>
<rect x="565.5" y="421.938" width="42.0" height="6.582" fill="#0010ff"/>
<rect x="565.5" y="415.375" width="42.0" height="6.582" fill="#0020ff"/>
<rect x="565.5" y="408.812" width="42.0" height="6.582" fill="#0030ff"/>
<rect x="565.5" y="402.250" width="42.0" height="6.582" fill="#0040ff"/>
<rect x="565.5" y="395.688" width="42.0" height="6.582" fill="#0050ff"/>
<rect x="565.5" y="389.125" width="42.0" height="6.582" fill="#0060ff"/>
<rect x="565.5" y="382.562" width="42.0" height="6.582" fill="#0070ff"/>
<rect x="565.5" y="376.000" width="42.0" height="6.582" fill="#0080ff"/>
<rect x="565.5" y="369.438" width="42.0" height="6.582" fill="#008fff"/>
<rect x="565.5" y="362.875" width="42.0" height="6.582" fill="#009fff"/>
<rect x="565.5" y="356.312" width="42.0" height="6.582" fill="#00afff"/>
<rect x="565.5" y="349.750" width="42.0" height="6.582" fill="#00bfff"/>
<rect x="565.5" y="343.188" width="42.0" height="6.582" fill="#00cfff"/>
<rect x="565.5" y="336.625" width="42.0" height="6.582" fill="#00dfff"/>
<rect x="565.5" y="330.062" width="42.0" height="6.582" fill="#00efff"/>
<rect x="565.5" y="323.500" width="42.0" height="6.582" fill="#00ffff"/>
<rect x="565.5" y="316.938" width="42.0" height="6.582" fill="#10ffef"/>
<rect x="565.5" y="310.375" width="42.0" height="6.582" fill="#20ffdf"/>
<rect x="565.5" y="303.812" width="42.0" height="6.582" fill="#30ffcf"/>
<rect x="565.5" y="297.250" width="42.0" height="6.582" fill="#40ffbf"/>
<rect x="565.5" y="290.688" width="42.0" height="6.582" fill="#50ffaf"/>
<rect x="565.5" y="284.125" width="42.0" height="6.582" fill="#60ff9f"/>
<rect x="565.5" y="277.562" width="42.0" height="6.582" fill="#70ff8f"/>
<rect x="565.5" y="271.000" width="42.0" height="6.582" fill="#80ff80"/>
<rect x="565.5" y="264.438" width="42.0" height="6.582" fill="#8fff70"/>
<rect x="565.5" y="257.875" width="42.0" height="6.582" fill="#9fff60"/>
<rect x="565.5" y="251.312" width="42.0" height="6.582" fill="#afff50"/>
<rect x="565.5" y="244.750" width="42.0" height="6.582" fill="#bfff40"/>
<rect x="565.5" y="238.188" width="42.0" height="6.582" fill="#cfff30"/>
<rect x="565.5" y="231.625" width="42.0" height="6.582" fill="#dfff20"/>
<rect x="565.5" y="225.062" width="42.0" height="6.582" fill="#efff10"/>
<rect x="565.5" y="218.500" width="42.0" height="6.582" fill="#ffff00"/>
<rect x="565.5" y="211.938" width="42.0" height="6.582" fill="#ffef00"/>
<rect x="565.5" y="205.375" width="42.0" height="6.582" fill="#ffdf00"/>
<rect x="565.5" y="198.812" width="42.0" height="6.582" fill="#ffcf00"/>
<rect x="565.5" y="192.250" width="42.0" height="6.582" fill="#ffbf00"/>
<rect x="565.5" y="185.688" width="42.0" height="6.582" fill="#ffaf00"/>
<rect x="565.5" y="179.125" width="42.0" height="6.582" fill="#ff9f00"/>
<rect x="565.5" y="172.562" width="42.0" height="6.582" fill="#ff8f00"/>
<rect x="565.5" y="166.000" width="42.0" height="6.582" fill="#ff8000"/>
<rect x="565.5" y="159.438" width="42.0" height="6.582" fill="#ff7000"/>
<rect x="565.5" y="152.875" width="42.0" height="6.582" fill="#ff6000"/>
<rect x="565.5" y="146.312" width="42.0" height="6.582" fill="#ff5000"/>
<rect x="565.5" y="139.750" width="42.0" height="6.582" fill="#ff4000"/>
<rect x="565.5" y="133.188" width="42.0" height="6.582" fill="#ff3000"/>
<rect x="565.5" y="126.625" width="42.0" height="6.582" fill="#ff2000"/>
<rect x="565.5" y="120.062" width="42.0" height="6.582" fill="#ff1000"/>
<rect x="565.5" y="113.500" width="42.0" height="6.582" fill="#ff0000"/>
<rect x="565.5" y="106.938" width="42.0" height="6.582" fill="#ef0000"/>
<rect x="565.5" y="100.375" width="42.0" height="6.582" fill="#df0000"/>
<rect x="565.5" y="93.812" width="42.0" height="6.582" fill="#cf0000"/>
<rect x="565.5" y="87.250" width="42.0" height="6.582" fill="#bf0000"/>
<rect x="565.5" y="80.688" width="42.0" height="6.582" fill="#af0000"/>
<rect x="565.5" y="74.125" width="42.0" height="6.582" fill="#9f0000"/>
<rect x="565.5" y="67.562" width="42.0" height="6.582" fill="#8f0000"/>
<rect x="565.5" y="61.000" width="42.0" height="6.582" fill="#800000"/>
</g>
<g stroke="#000" fill="none" shape-rendering="crispEdges">
<rect x="565.5" y="61.5" width="42.0" height="420"/>
<path d="M565.5 449.5H569.5M607.5 449.5H603.5M565.5 371.5H569.5M607.5 371.5H603.5M565.5 293.5H569.5M607.5 293.5H603.5M565.5 214.5H569.5M607.5 214.5H603.5M565.5 136.5H569.5M607.5 136.5H603.5"/>
</g>
<g fill="#000" filter="url(#crisp)">
<text x="181" y="48.8" font-size="18" font-weight="bold" textLength="233" lengthAdjust="spacingAndGlyphs">Temperature / Température</text>
<text x="270.5" y="512.8" font-size="16" font-weight="bold" textLength="55" lengthAdjust="spacingAndGlyphs">Station</text>
<text transform="translate(27.9,369.5) rotate(-90)" x="0" y="0" font-size="16" font-weight="bold" textLength="198" lengthAdjust="spacingAndGlyphs">Pressure / Pression (dbar)</text>
<text x="55.8" y="65.8" font-size="13" text-anchor="end">0</text>
<text x="55.8" y="115.8" font-size="13" text-anchor="end">100</text>
<text x="55.8" y="165.8" font-size="13" text-anchor="end">200</text>
<text x="55.8" y="215.8" font-size="13" text-anchor="end">300</text>
<text x="55.8" y="265.8" font-size="13" text-anchor="end">400</text>
<text x="55.8" y="315.8" font-size="13" text-anchor="end">500</text>
<text x="55.8" y="365.8" font-size="13" text-anchor="end">600</text>
<text x="55.8" y="415.8" font-size="13" text-anchor="end">700</text>
<text x="55.8" y="465.8" font-size="13" text-anchor="end">800</text>
<text x="118.2" y="496.8" font-size="13" text-anchor="middle">10</text>
<text x="184.3" y="496.8" font-size="13" text-anchor="middle">20</text>
<text x="250.4" y="496.8" font-size="13" text-anchor="middle">30</text>
<text x="316.5" y="496.8" font-size="13" text-anchor="middle">40</text>
<text x="382.6" y="496.8" font-size="13" text-anchor="middle">50</text>
<text x="448.7" y="496.8" font-size="13" text-anchor="middle">60</text>
<text x="514.8" y="496.8" font-size="13" text-anchor="middle">70</text>
<text x="611.2" y="454.0" font-size="12.3" textLength="7.1" lengthAdjust="spacingAndGlyphs">4</text>
<text x="611.2" y="375.6" font-size="12.3" textLength="7.1" lengthAdjust="spacingAndGlyphs">6</text>
<text x="611.2" y="297.3" font-size="12.3" textLength="7.1" lengthAdjust="spacingAndGlyphs">8</text>
<text x="611.2" y="218.9" font-size="12.3" textLength="14.2" lengthAdjust="spacingAndGlyphs">10</text>
<text x="611.2" y="140.6" font-size="12.3" textLength="14.2" lengthAdjust="spacingAndGlyphs">12</text>
<text x="581.3" y="51" font-size="10" textLength="12.8" lengthAdjust="spacingAndGlyphs">°C</text>
<text x="63.5" y="547.7" font-size="14.6" font-weight="bold" textLength="167" lengthAdjust="spacingAndGlyphs">Float/Profileur dérivant:</text>
<text x="238.3" y="547.7" font-size="13" textLength="53" lengthAdjust="spacingAndGlyphs">46851A</text>
<text x="63.5" y="567.5" font-size="14.6" font-weight="bold" textLength="110" lengthAdjust="spacingAndGlyphs">Period/Période:</text>
<text x="181.6" y="567.3" font-size="13" textLength="192" lengthAdjust="spacingAndGlyphs">09/07/1995 to/à 09/01/1996</text>
<text x="438.5" y="566" font-size="10.5" textLength="67.5" lengthAdjust="spacingAndGlyphs">MEDS/SDMM</text>
<text x="513.5" y="566" font-size="10.5" textLength="41.5" lengthAdjust="spacingAndGlyphs">11/29/04</text>
</g>
<g font-family="Liberation Serif" font-weight="bold" font-size="12" fill="#000"><text x="110.8" y="80.4" style="font-family:'Liberation Serif',serif">10</text><text x="113.4" y="107.2" style="font-family:'Liberation Serif',serif">6</text><text x="129.0" y="107.2" style="font-family:'Liberation Serif',serif">6</text><text x="156.3" y="93.4" font-size="10" style="font-family:'Liberation Serif',serif">8</text><text x="186.0" y="129.2" style="font-family:'Liberation Serif',serif">6</text><text x="337.8" y="111.6" style="font-family:'Liberation Serif',serif">6</text><text x="355.0" y="147.6" style="font-family:'Liberation Serif',serif">6</text><text x="387.0" y="320.8" style="font-family:'Liberation Serif',serif">4</text><text x="514.0" y="70.0" style="font-family:'Liberation Serif',serif">12</text><text x="508.5" y="77.2" style="font-family:'Liberation Serif',serif">10</text><text x="493.5" y="88.0" style="font-family:'Liberation Serif',serif">8</text></g><path d="M107.2 84.1H112.2M109.7 81.6V86.6M113.0 110.0H118.0M115.5 107.5V112.5M128.5 109.5H133.5M131.0 107.0V112.0M156.4 95.8H161.4M158.9 93.3V98.3M185.5 131.5H190.5M188.0 129.0V134.0M336.5 114.0H341.5M339.0 111.5V116.5M351.5 149.7H356.5M354.0 147.2V152.2M386.0 323.3H391.0M388.5 320.8V325.8M491.0 90.0H496.0M493.5 87.5V92.5M507.5 79.5H512.5M510.0 77.0V82.0M516.5 73.0H521.5M519.0 70.5V75.5" stroke="#000" stroke-width="1" fill="none"/>
</svg></body></html>
